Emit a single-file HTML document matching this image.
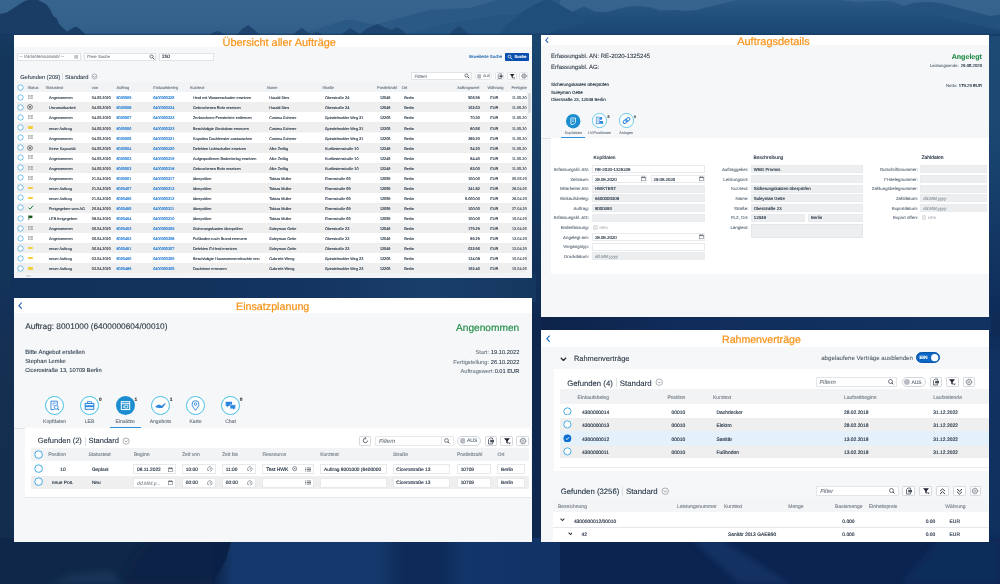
<!DOCTYPE html>
<html lang="de"><head><meta charset="utf-8"><title>Handwerkerportal</title>
<style>
html,body{margin:0;padding:0}
body{width:1000px;height:584px;overflow:hidden;position:relative;background:#113058;font-family:"Liberation Sans",sans-serif}
.a{position:absolute;box-sizing:border-box}
.t{position:absolute;white-space:nowrap;line-height:1;font-family:"Liberation Sans",sans-serif;text-rendering:geometricPrecision}
#ui{position:absolute;left:0;top:0;width:1000px;height:584px;filter:blur(.22px)}

</style></head><body>
<svg class="a" style="left:0;top:0" width="1000" height="584" viewBox="0 0 1000 584">
<defs>
<linearGradient id="gl" x1="0" x2="0" y1="0" y2="584" gradientUnits="userSpaceOnUse">
<stop offset="0" stop-color="#18406a"/><stop offset=".06" stop-color="#163a61"/><stop offset=".11" stop-color="#14365a"/><stop offset=".47" stop-color="#14355a"/><stop offset=".52" stop-color="#133058"/><stop offset=".60" stop-color="#142f51"/><stop offset=".92" stop-color="#132d4f"/><stop offset=".95" stop-color="#0f2849"/><stop offset="1" stop-color="#0f2747"/></linearGradient>
<linearGradient id="gr" x1="0" x2="0" y1="0" y2="584" gradientUnits="userSpaceOnUse">
<stop offset="0" stop-color="#1d4a76"/><stop offset=".2" stop-color="#1c4873"/><stop offset=".31" stop-color="#17406c"/><stop offset=".45" stop-color="#123360"/><stop offset=".56" stop-color="#0e2a55"/><stop offset=".62" stop-color="#113262"/><stop offset=".9" stop-color="#10305e"/><stop offset="1" stop-color="#0d2652"/></linearGradient>
<linearGradient id="gg" x1="0" x2="1" y1="0" y2="0"><stop offset="0" stop-color="#12315a"/><stop offset=".55" stop-color="#13345f"/><stop offset=".8" stop-color="#193f69"/><stop offset="1" stop-color="#14375f"/></linearGradient>
<linearGradient id="gb" x1="0" x2="1" y1="0" y2="0"><stop offset="0" stop-color="#0b2248"/><stop offset=".06" stop-color="#14386b"/><stop offset=".48" stop-color="#14386b"/><stop offset=".55" stop-color="#0e2a58"/><stop offset=".66" stop-color="#0e2a58"/><stop offset=".72" stop-color="#12356a"/><stop offset="1" stop-color="#113366"/></linearGradient>
<linearGradient id="gc" x1="0" x2="0" y1="30" y2="320" gradientUnits="userSpaceOnUse"><stop offset="0" stop-color="#1a4670"/><stop offset=".2" stop-color="#184169"/><stop offset=".5" stop-color="#143a64"/><stop offset="1" stop-color="#0f2a52"/></linearGradient>
<linearGradient id="gp" x1="0" x2="1" y1="0" y2="0"><stop offset="0" stop-color="#0d2349"/><stop offset=".3" stop-color="#102c5a"/><stop offset="1" stop-color="#123362"/></linearGradient>
<filter id="bl" x="-20%" y="-50%" width="140%" height="200%"><feGaussianBlur stdDeviation="3"/></filter>
</defs>
<rect x="0" y="0" width="545" height="584" fill="url(#gl)"/>
<rect x="536" y="0" width="464" height="584" fill="url(#gr)"/>
<rect x="530" y="30" width="13" height="290" fill="url(#gc)"/>
<rect x="530" y="318" width="13" height="266" fill="#0e2850"/>
<rect x="10" y="274" width="526" height="28" fill="url(#gg)"/>
<rect x="541" y="314" width="450" height="20" fill="url(#gp)"/>
<rect x="0" y="538" width="1000" height="46" fill="#0f2849"/>
<polygon points="120,584 135,555 150,538 232,538 226,560 212,584" fill="#0b2046" filter="url(#bl)"/>
<rect x="212" y="538" width="348" height="46" fill="url(#gb)"/>
<polygon points="212,584 226,560 232,538 212,538" fill="#0b2046"/>
<polygon points="50,584 70,574 110,570 125,584" fill="#1b3b5e" opacity=".6" filter="url(#bl)"/>
<rect x="560" y="538" width="440" height="46" fill="#0c2450"/>
<polygon points="690,538 720,538 790,584 740,584" fill="#123468" opacity=".8" filter="url(#bl)"/>
<polygon points="900,584 940,538 1000,538 1000,584" fill="#0f2d5c" opacity=".8" filter="url(#bl)"/>
</svg>
<svg class="a" style="left:0;top:0" width="1000" height="36" viewBox="0 0 1000 36">
<defs><linearGradient id="gs" x1="0" x2="0" y1="0" y2="1"><stop offset="0" stop-color="#36648e"/><stop offset=".6" stop-color="#34628c"/><stop offset="1" stop-color="#2f5d88"/></linearGradient>
<linearGradient id="gm" x1="0" x2="0" y1="0" y2="1"><stop offset="0" stop-color="#2a5985"/><stop offset=".55" stop-color="#1e4d79"/><stop offset="1" stop-color="#1a4772"/></linearGradient></defs>
<rect x="0" y="0" width="1000" height="36" fill="url(#gs)"/>
<polygon points="296,36 305,33 345,20 352,20 365,23 378,25 385,22 430,10 470,8 490,2 496,0 560,0 560,36" fill="#2b5985"/>
<polygon points="405,36 440,25 470,20 500,15 540,12 560,10 560,36" fill="#275582"/>
<polygon points="500,36 520,20 535,8 545,2 551,0 572,11.7 583.7,6.5 595.4,11.7 608,11.7 624,7.3 637,5.7 650,7.3 660,10.4 676,9.9 686,11 697,9.9 707,7.3 717.6,4.7 728,2 736,0 840.4,0 856,2 872.8,1.2 890.8,.7 904,6 913.6,2.9 928,1.9 942.4,3.6 964,9.6 990.4,16.3 1000,14.4 1000,36" fill="url(#gm)"/>
<polygon points="496,36 510,22 525,10 540,2 545,0 551,0 572,11.7 580,16 600,20 560,30 540,36" fill="#1f4e7a"/>
<polygon points="904,6 913.6,2.9 928,1.9 942.4,3.6 964,9.6 990.4,16.3 1000,14.4 1000,30 960,22 930,14 915,12" fill="#245280" opacity=".8"/>
<polygon points="0,14 7,12.6 14,7.7 18.2,4.9 23.8,1.4 28,0 38,0 46.2,4.2 50.4,9.8 53.2,16.1 56.7,18.2 58.8,23.8 63,28 67.2,31.5 71.4,28.7 75.6,26.6 78.4,28 82.6,31.5 85.4,34.3 87,36 0,36" fill="#1a3d66"/>
<polygon points="208,36 214,32 218,31 222,33 226,36" fill="#1e446e"/>
<polygon points="236,36 242,29 248,25 252,28 258,33 262,36" fill="#1e446e"/>
<polygon points="292,36 297,31 302,28 306,31 311,35 316,32 320,33 324,36" fill="#1e456f"/>
<polygon points="340,36 346,31 350,28 355,31 360,34 366,29 377.5,24 386,28 392,30 397,27 403,31 408,36" fill="#1e456f"/>
<polygon points="448,36 454,29 459.4,26 464,30 470,36" fill="#1e456f"/>
<rect x="0" y="33.5" width="1000" height="2.5" fill="#123660" opacity=".55"/>
</svg>
<div id="ui">
<div class="a" style="left:14px;top:35px;width:518px;height:243px;background:#f5f7f9;"></div>
<div class="a" style="left:14px;top:35px;width:518px;height:12px;background:#fff;"></div>
<div class="a" style="left:541px;top:35px;width:448px;height:282px;background:#f5f7f9;"></div>
<div class="a" style="left:541px;top:35px;width:448px;height:10px;background:#fff;"></div>
<div class="a" style="left:14px;top:298px;width:517.5px;height:244px;background:#f5f7f9;"></div>
<div class="a" style="left:14px;top:298px;width:517.5px;height:15px;background:#fff;"></div>
<div class="a" style="left:541px;top:330px;width:447.5px;height:212px;background:#f5f7f9;"></div>
<div class="a" style="left:541px;top:330px;width:447.5px;height:16.5px;background:#fff;"></div>
<div class="a" style="left:17.4px;top:53px;width:63.8px;height:8px;background:#fff;border:.6px solid #e1e4e7;"></div>
<svg class="a" style="left:73.75px;top:55.12px" width="4.5" height="3.75" viewBox="0 0 6 5"><g stroke="#666e77" stroke-width=".8"><line x1="0" y1="1" x2="1" y2="1"/><line x1="1.8" y1="1" x2="6" y2="1"/><line x1="0" y1="2.5" x2="1" y2="2.5"/><line x1="1.8" y1="2.5" x2="6" y2="2.5"/><line x1="0" y1="4" x2="1" y2="4"/><line x1="1.8" y1="4" x2="6" y2="4"/></g></svg>
<div class="a" style="left:84px;top:53px;width:71.7px;height:8px;background:#fff;border:.6px solid #e1e4e7;"></div>
<svg class="a" style="left:149px;top:54px" width="6" height="6" viewBox="0 0 6 6"><circle cx="2.5" cy="2.5" r="1.6" fill="none" stroke="#445" stroke-width=".7"/><line x1="3.7" y1="3.7" x2="5.4" y2="5.4" stroke="#445" stroke-width=".9"/></svg>
<div class="a" style="left:158.8px;top:53px;width:55.4px;height:8px;background:#fff;border:.6px solid #e1e4e7;"></div>
<div class="a" style="left:505px;top:53px;width:24.1px;height:8px;background:#0a4fae;border-radius:0.8px;"></div>
<svg class="a" style="left:507.4px;top:54.2px" width="6" height="6" viewBox="0 0 6 6"><circle cx="2.5" cy="2.5" r="1.4" fill="none" stroke="#fff" stroke-width=".7"/><line x1="3.7" y1="3.7" x2="5.4" y2="5.4" stroke="#fff" stroke-width=".9"/></svg>
<div class="a" style="left:62.3px;top:73.2px;width:0.5px;height:6.6px;background:#dfe2e5;"></div>
<svg class="a" style="left:90.5px;top:72.8px" width="7" height="7" viewBox="0 0 7 7"><circle cx="3.5" cy="3.5" r="2.5" fill="none" stroke="#7a828b" stroke-width=".6"/><polyline points="2.1,3.0 3.5,4.4 4.9,3.0" fill="none" stroke="#7a828b" stroke-width=".7"/></svg>
<div class="a" style="left:411.2px;top:72.2px;width:60.8px;height:8px;background:#fff;border:.6px solid #e1e4e7;border-radius:0.8px;"></div>
<svg class="a" style="left:463.5px;top:73.4px" width="6" height="6" viewBox="0 0 6 6"><circle cx="2.5" cy="2.5" r="1.6" fill="none" stroke="#445" stroke-width=".7"/><line x1="3.7" y1="3.7" x2="5.4" y2="5.4" stroke="#445" stroke-width=".9"/></svg>
<div class="a" style="left:475px;top:72.3px;width:17.4px;height:7.8px;background:#fff;border:.6px solid #e2e5e8;border-radius:3.9px;"></div>
<svg class="a" style="left:476.72px;top:73.87px" width="4.66" height="4.66" viewBox="0 0 4.66 4.66"><circle cx="2.327999999999999" cy="2.327999999999999" r="2.027999999999999" fill="#b9bec4" stroke="#9aa0a8" stroke-width=".4"/></svg>
<div class="a" style="left:495.2px;top:72.3px;width:9.3px;height:7.8px;background:#fff;border:.6px solid #e2e5e8;border-radius:1.2px;"></div>
<svg class="a" style="left:496.6px;top:73px" width="6.4" height="6.4" viewBox="0 0 8 8"><path d="M1.5 2.5 L1.5 7 L5.5 7 L5.5 5.6 M1.5 2.5 L3 1 L5.5 1 L5.5 2.4" fill="none" stroke="#4a525b" stroke-width=".8"/><rect x="3.2" y="2.8" width="3.8" height="2.6" fill="#4a525b"/></svg>
<div class="a" style="left:507px;top:72.3px;width:9.5px;height:7.8px;background:#fff;border:.6px solid #e2e5e8;border-radius:1.2px;"></div>
<svg class="a" style="left:508.6px;top:73px" width="6.4" height="6.4" viewBox="0 0 8 8"><polygon points="1,1.3 7,1.3 4.7,4 4.7,6.8 3.3,6 3.3,4" fill="#223"/><path d="M5.6 5.4 L7.2 7 M7.2 5.4 L5.6 7" stroke="#223" stroke-width=".7"/></svg>
<div class="a" style="left:519px;top:72.3px;width:9.3px;height:7.8px;background:#fff;border:.6px solid #e2e5e8;border-radius:1.2px;"></div>
<svg class="a" style="left:519.7px;top:72.2px" width="8" height="8" viewBox="0 0 8 8"><circle cx="4" cy="4" r="1.9" fill="none" stroke="#7b838c" stroke-width=".8"/><circle cx="4" cy="4" r="0.722" fill="none" stroke="#7b838c" stroke-width=".6"/><circle cx="4" cy="4" r="2.4" fill="none" stroke="#7b838c" stroke-width=".9" stroke-dasharray="1 1.1"/></svg>
<div class="a" style="left:17.4px;top:82px;width:509px;height:10.8px;background:#f2f3f4;"></div>
<div class="a" style="left:17.4px;top:92.5px;width:509px;height:0.5px;background:#dfe2e5;"></div>
<svg class="a" style="left:16.7px;top:83.8px" width="7" height="7" viewBox="0 0 7 7"><circle cx="3.5" cy="3.5" r="2.7" fill="#fff" stroke="#3fa8e3" stroke-width="0.72"/></svg>
<div class="a" style="left:17.4px;top:92.27px;width:509px;height:10.06px;background:#fff;"></div>
<svg class="a" style="left:16.7px;top:93.8px" width="7" height="7" viewBox="0 0 7 7"><circle cx="3.5" cy="3.5" r="2.7" fill="#fff" stroke="#3fa8e3" stroke-width="0.72"/></svg>
<svg class="a" style="left:27.6px;top:95.1px" width="5.4" height="4.4" viewBox="0 0 5.4 4.4"><g fill="none" stroke="#8b8f94" stroke-width=".45"><rect x=".4" y=".4" width="1.7" height="3.4"/><rect x="3.2" y=".4" width="1.7" height="3.4"/></g><rect x=".9" y="1.2" width=".7" height=".5" fill="#777"/><rect x="3.7" y="1.2" width=".7" height=".5" fill="#777"/></svg>
<div class="a" style="left:17.4px;top:102.33px;width:509px;height:10.06px;background:#efefef;"></div>
<svg class="a" style="left:16.7px;top:103.86px" width="7" height="7" viewBox="0 0 7 7"><circle cx="3.5" cy="3.5" r="2.7" fill="#fff" stroke="#3fa8e3" stroke-width="0.72"/></svg>
<svg class="a" style="left:27.2px;top:104.36px" width="6" height="6" viewBox="0 0 6 6"><circle cx="3" cy="3" r="2.4" fill="none" stroke="#333" stroke-width=".6"/><path d="M2 2 L4 4 M4 2 L2 4" stroke="#333" stroke-width=".6"/></svg>
<div class="a" style="left:17.4px;top:112.39px;width:509px;height:10.06px;background:#fff;"></div>
<svg class="a" style="left:16.7px;top:113.92px" width="7" height="7" viewBox="0 0 7 7"><circle cx="3.5" cy="3.5" r="2.7" fill="#fff" stroke="#3fa8e3" stroke-width="0.72"/></svg>
<svg class="a" style="left:27.6px;top:115.22px" width="5.4" height="4.4" viewBox="0 0 5.4 4.4"><g fill="none" stroke="#8b8f94" stroke-width=".45"><rect x=".4" y=".4" width="1.7" height="3.4"/><rect x="3.2" y=".4" width="1.7" height="3.4"/></g><rect x=".9" y="1.2" width=".7" height=".5" fill="#777"/><rect x="3.7" y="1.2" width=".7" height=".5" fill="#777"/></svg>
<div class="a" style="left:17.4px;top:122.45px;width:509px;height:10.06px;background:#efefef;"></div>
<svg class="a" style="left:16.7px;top:123.98px" width="7" height="7" viewBox="0 0 7 7"><circle cx="3.5" cy="3.5" r="2.7" fill="#fff" stroke="#3fa8e3" stroke-width="0.72"/></svg>
<div class="a" style="left:27.6px;top:126.28px;width:5.4px;height:2.4px;background:#f2cf3a;border-radius:0.8px;"></div>
<div class="a" style="left:17.4px;top:132.51px;width:509px;height:10.06px;background:#fff;"></div>
<svg class="a" style="left:16.7px;top:134.04px" width="7" height="7" viewBox="0 0 7 7"><circle cx="3.5" cy="3.5" r="2.7" fill="#fff" stroke="#3fa8e3" stroke-width="0.72"/></svg>
<svg class="a" style="left:27.6px;top:135.34px" width="5.4" height="4.4" viewBox="0 0 5.4 4.4"><g fill="none" stroke="#8b8f94" stroke-width=".45"><rect x=".4" y=".4" width="1.7" height="3.4"/><rect x="3.2" y=".4" width="1.7" height="3.4"/></g><rect x=".9" y="1.2" width=".7" height=".5" fill="#777"/><rect x="3.7" y="1.2" width=".7" height=".5" fill="#777"/></svg>
<div class="a" style="left:17.4px;top:142.57px;width:509px;height:10.06px;background:#efefef;"></div>
<svg class="a" style="left:16.7px;top:144.1px" width="7" height="7" viewBox="0 0 7 7"><circle cx="3.5" cy="3.5" r="2.7" fill="#fff" stroke="#3fa8e3" stroke-width="0.72"/></svg>
<svg class="a" style="left:27.2px;top:144.6px" width="6" height="6" viewBox="0 0 6 6"><circle cx="3" cy="3" r="2.4" fill="none" stroke="#333" stroke-width=".6"/><path d="M2 2 L4 4 M4 2 L2 4" stroke="#333" stroke-width=".6"/></svg>
<div class="a" style="left:17.4px;top:152.63px;width:509px;height:10.06px;background:#fff;"></div>
<svg class="a" style="left:16.7px;top:154.16px" width="7" height="7" viewBox="0 0 7 7"><circle cx="3.5" cy="3.5" r="2.7" fill="#fff" stroke="#3fa8e3" stroke-width="0.72"/></svg>
<svg class="a" style="left:27.6px;top:155.46px" width="5.4" height="4.4" viewBox="0 0 5.4 4.4"><g fill="none" stroke="#8b8f94" stroke-width=".45"><rect x=".4" y=".4" width="1.7" height="3.4"/><rect x="3.2" y=".4" width="1.7" height="3.4"/></g><rect x=".9" y="1.2" width=".7" height=".5" fill="#777"/><rect x="3.7" y="1.2" width=".7" height=".5" fill="#777"/></svg>
<div class="a" style="left:17.4px;top:162.69px;width:509px;height:10.06px;background:#efefef;"></div>
<svg class="a" style="left:16.7px;top:164.22px" width="7" height="7" viewBox="0 0 7 7"><circle cx="3.5" cy="3.5" r="2.7" fill="#fff" stroke="#3fa8e3" stroke-width="0.72"/></svg>
<svg class="a" style="left:27.6px;top:165.52px" width="5.4" height="4.4" viewBox="0 0 5.4 4.4"><g fill="none" stroke="#8b8f94" stroke-width=".45"><rect x=".4" y=".4" width="1.7" height="3.4"/><rect x="3.2" y=".4" width="1.7" height="3.4"/></g><rect x=".9" y="1.2" width=".7" height=".5" fill="#777"/><rect x="3.7" y="1.2" width=".7" height=".5" fill="#777"/></svg>
<div class="a" style="left:17.4px;top:172.75px;width:509px;height:10.06px;background:#fff;"></div>
<svg class="a" style="left:16.7px;top:174.28px" width="7" height="7" viewBox="0 0 7 7"><circle cx="3.5" cy="3.5" r="2.7" fill="#fff" stroke="#3fa8e3" stroke-width="0.72"/></svg>
<svg class="a" style="left:27.6px;top:175.58px" width="5.4" height="4.4" viewBox="0 0 5.4 4.4"><g fill="none" stroke="#8b8f94" stroke-width=".45"><rect x=".4" y=".4" width="1.7" height="3.4"/><rect x="3.2" y=".4" width="1.7" height="3.4"/></g><rect x=".9" y="1.2" width=".7" height=".5" fill="#777"/><rect x="3.7" y="1.2" width=".7" height=".5" fill="#777"/></svg>
<div class="a" style="left:17.4px;top:182.81px;width:509px;height:10.06px;background:#efefef;"></div>
<svg class="a" style="left:16.7px;top:184.34px" width="7" height="7" viewBox="0 0 7 7"><circle cx="3.5" cy="3.5" r="2.7" fill="#fff" stroke="#3fa8e3" stroke-width="0.72"/></svg>
<div class="a" style="left:27.6px;top:186.64px;width:5.4px;height:2.4px;background:#f2cf3a;border-radius:0.8px;"></div>
<div class="a" style="left:17.4px;top:192.87px;width:509px;height:10.06px;background:#fff;"></div>
<svg class="a" style="left:16.7px;top:194.4px" width="7" height="7" viewBox="0 0 7 7"><circle cx="3.5" cy="3.5" r="2.7" fill="#fff" stroke="#3fa8e3" stroke-width="0.72"/></svg>
<div class="a" style="left:27.6px;top:196.7px;width:5.4px;height:2.4px;background:#f2cf3a;border-radius:0.8px;"></div>
<div class="a" style="left:17.4px;top:202.93px;width:509px;height:10.06px;background:#efefef;"></div>
<svg class="a" style="left:16.7px;top:204.46px" width="7" height="7" viewBox="0 0 7 7"><circle cx="3.5" cy="3.5" r="2.7" fill="#fff" stroke="#3fa8e3" stroke-width="0.72"/></svg>
<svg class="a" style="left:27.6px;top:205.46px" width="6" height="5" viewBox="0 0 6 5"><polyline points=".6,2.8 2.1,4.2 5,.7" fill="none" stroke="#1a7a2e" stroke-width="1"/></svg>
<div class="a" style="left:17.4px;top:212.99px;width:509px;height:10.06px;background:#fff;"></div>
<svg class="a" style="left:16.7px;top:214.52px" width="7" height="7" viewBox="0 0 7 7"><circle cx="3.5" cy="3.5" r="2.7" fill="#fff" stroke="#3fa8e3" stroke-width="0.72"/></svg>
<svg class="a" style="left:27.8px;top:215.42px" width="5" height="5.4" viewBox="0 0 5 5.4"><path d="M.8 .4 L.8 5.2" stroke="#16581f" stroke-width=".7"/><path d="M.8 .6 L4.4 .6 L4.4 3.1 L.8 3.1 Z" fill="#16581f"/></svg>
<div class="a" style="left:17.4px;top:223.05px;width:509px;height:10.06px;background:#efefef;"></div>
<svg class="a" style="left:16.7px;top:224.58px" width="7" height="7" viewBox="0 0 7 7"><circle cx="3.5" cy="3.5" r="2.7" fill="#fff" stroke="#3fa8e3" stroke-width="0.72"/></svg>
<svg class="a" style="left:27.6px;top:225.88px" width="5.4" height="4.4" viewBox="0 0 5.4 4.4"><g fill="none" stroke="#8b8f94" stroke-width=".45"><rect x=".4" y=".4" width="1.7" height="3.4"/><rect x="3.2" y=".4" width="1.7" height="3.4"/></g><rect x=".9" y="1.2" width=".7" height=".5" fill="#777"/><rect x="3.7" y="1.2" width=".7" height=".5" fill="#777"/></svg>
<div class="a" style="left:17.4px;top:233.11px;width:509px;height:10.06px;background:#fff;"></div>
<svg class="a" style="left:16.7px;top:234.64px" width="7" height="7" viewBox="0 0 7 7"><circle cx="3.5" cy="3.5" r="2.7" fill="#fff" stroke="#3fa8e3" stroke-width="0.72"/></svg>
<svg class="a" style="left:27.6px;top:235.94px" width="5.4" height="4.4" viewBox="0 0 5.4 4.4"><g fill="none" stroke="#8b8f94" stroke-width=".45"><rect x=".4" y=".4" width="1.7" height="3.4"/><rect x="3.2" y=".4" width="1.7" height="3.4"/></g><rect x=".9" y="1.2" width=".7" height=".5" fill="#777"/><rect x="3.7" y="1.2" width=".7" height=".5" fill="#777"/></svg>
<div class="a" style="left:17.4px;top:243.17px;width:509px;height:10.06px;background:#efefef;"></div>
<svg class="a" style="left:16.7px;top:244.7px" width="7" height="7" viewBox="0 0 7 7"><circle cx="3.5" cy="3.5" r="2.7" fill="#fff" stroke="#3fa8e3" stroke-width="0.72"/></svg>
<div class="a" style="left:27.6px;top:247px;width:5.4px;height:2.4px;background:#f2cf3a;border-radius:0.8px;"></div>
<div class="a" style="left:17.4px;top:253.23px;width:509px;height:10.06px;background:#fff;"></div>
<svg class="a" style="left:16.7px;top:254.76px" width="7" height="7" viewBox="0 0 7 7"><circle cx="3.5" cy="3.5" r="2.7" fill="#fff" stroke="#3fa8e3" stroke-width="0.72"/></svg>
<div class="a" style="left:27.6px;top:257.06px;width:5.4px;height:2.4px;background:#f2cf3a;border-radius:0.8px;"></div>
<div class="a" style="left:17.4px;top:263.29px;width:509px;height:10.06px;background:#efefef;"></div>
<svg class="a" style="left:16.7px;top:264.82px" width="7" height="7" viewBox="0 0 7 7"><circle cx="3.5" cy="3.5" r="2.7" fill="#fff" stroke="#3fa8e3" stroke-width="0.72"/></svg>
<div class="a" style="left:27.6px;top:267.12px;width:5.4px;height:2.4px;background:#f2cf3a;border-radius:0.8px;"></div>
<div class="a" style="left:526.4px;top:82px;width:5.6px;height:191.4px;background:#f4f5f6;"></div>
<div class="a" style="left:527.6px;top:93px;width:3.2px;height:20px;background:#d9dcdf;border-radius:1.2px;"></div>
<div class="a" style="left:14px;top:273.4px;width:518px;height:4.6px;background:#f3f4f5;"></div>
<div class="a" style="left:25.6px;top:274.6px;width:5.6px;height:2px;background:#d6d9dc;border-radius:1px;"></div>
<svg class="a" style="left:545.4px;top:37px" width="4" height="6.4" viewBox="0 0 4 6.4"><polyline points="3.2,.5 .8,3.2 3.2,5.9" fill="none" stroke="#2b64b8" stroke-width="1.05"/></svg>
<svg class="a" style="left:565.1px;top:112.6px" width="16.4" height="16.4" viewBox="0 0 16.4 16.4"><circle cx="8.2" cy="8.2" r="7.2" fill="#1b8dd0"/></svg>
<svg class="a" style="left:566.1px;top:113.6px" width="14.4" height="14.4" viewBox="-7.2 -7.2 14.4 14.4"><g transform="scale(0.96)"><path d="M-2.4 -3.3 H2.4 V1.2 L.6 3.3 H-2.4 Z" fill="none" stroke="#fff" stroke-width=".8"/><path d="M-1.1 -1.3 H1.2 M-1.1 .3 H.6" stroke="#fff" stroke-width=".7"/></g></svg>
<svg class="a" style="left:591.2px;top:112.3px" width="17" height="17" viewBox="0 0 17 17"><circle cx="8.5" cy="8.5" r="7.10625" fill="#fff" stroke="#45bfe6" stroke-width="0.7875"/></svg>
<svg class="a" style="left:592.2px;top:113.3px" width="15" height="15" viewBox="-7.5 -7.5 15.0 15.0"><g transform="scale(1)"><rect x="-3.3" y="-3.4" width="3" height="6.6" fill="none" stroke="#2e86de" stroke-width=".7"/><rect x=".4" y="-3.4" width="2.2" height="2.6" fill="#2e86de"/><path d="M.2 .6 H3.3 L4 3.2 H-.2 Z" fill="#2e86de"/><path d="M-2.5 -1.8 H-1.1 M-2.5 -.4 H-1.1 M-2.5 1 H-1.1" stroke="#2e86de" stroke-width=".5"/></g></svg>
<svg class="a" style="left:617.7px;top:112.3px" width="17" height="17" viewBox="0 0 17 17"><circle cx="8.5" cy="8.5" r="7.10625" fill="#fff" stroke="#45bfe6" stroke-width="0.7875"/></svg>
<svg class="a" style="left:618.7px;top:113.3px" width="15" height="15" viewBox="-7.5 -7.5 15.0 15.0"><g transform="scale(1)"><g transform="rotate(-38)"><rect x="-3.9" y="-1.5" width="4.6" height="3" rx="1.5" fill="none" stroke="#2e86de" stroke-width="1"/><rect x="-.7" y="-1.5" width="4.6" height="3" rx="1.5" fill="none" stroke="#2e86de" stroke-width="1"/></g></g></svg>
<div class="a" style="left:541px;top:137.6px;width:448px;height:0.6px;background:#dfe2e6;"></div>
<div class="a" style="left:561.2px;top:136.9px;width:23.8px;height:1.1px;background:#2a8fdc;"></div>
<div class="a" style="left:550.5px;top:138.2px;width:438.5px;height:136px;background:#fff;"></div>
<div class="a" style="left:591.9px;top:165.25px;width:113.4px;height:8.1px;background:#fff;border:.5px solid #e8eaed;"></div>
<div class="a" style="left:591.9px;top:174.93px;width:55.4px;height:8.1px;background:#fff;border:.5px solid #e8eaed;"></div>
<svg class="a" style="left:640.8px;top:176.38px" width="5" height="5.2" viewBox="0 0 5 5.2"><rect x=".5" y="1" width="4" height="3.8" fill="none" stroke="#6d757e" stroke-width=".55"/><rect x=".5" y="1" width="4" height="1.1" fill="#6d757e"/><path d="M1.5 .2 V1.2 M3.5 .2 V1.2" stroke="#6d757e" stroke-width=".5"/></svg>
<div class="a" style="left:650.5px;top:174.93px;width:54.8px;height:8.1px;background:#fff;border:.5px solid #e8eaed;"></div>
<svg class="a" style="left:698.8px;top:176.38px" width="5" height="5.2" viewBox="0 0 5 5.2"><rect x=".5" y="1" width="4" height="3.8" fill="none" stroke="#6d757e" stroke-width=".55"/><rect x=".5" y="1" width="4" height="1.1" fill="#6d757e"/><path d="M1.5 .2 V1.2 M3.5 .2 V1.2" stroke="#6d757e" stroke-width=".5"/></svg>
<div class="a" style="left:591.9px;top:184.61px;width:113.4px;height:8.1px;background:#eceeef;border:.5px solid #e9ebec;"></div>
<div class="a" style="left:591.9px;top:194.29px;width:113.4px;height:8.1px;background:#eceeef;border:.5px solid #e9ebec;"></div>
<div class="a" style="left:591.9px;top:203.97px;width:113.4px;height:8.1px;background:#eceeef;border:.5px solid #e9ebec;"></div>
<div class="a" style="left:591.9px;top:213.65px;width:113.4px;height:8.1px;background:#eceeef;border:.5px solid #e9ebec;"></div>
<div class="a" style="left:593px;top:225.08px;width:4.6px;height:4.6px;background:#e6e8ea;border:.4px solid #d9dcdf;border-radius:1.2px;"></div>
<div class="a" style="left:591.9px;top:233.01px;width:113.4px;height:8.1px;background:#fff;border:.5px solid #e8eaed;"></div>
<svg class="a" style="left:698.8px;top:234.46px" width="5" height="5.2" viewBox="0 0 5 5.2"><rect x=".5" y="1" width="4" height="3.8" fill="none" stroke="#6d757e" stroke-width=".55"/><rect x=".5" y="1" width="4" height="1.1" fill="#6d757e"/><path d="M1.5 .2 V1.2 M3.5 .2 V1.2" stroke="#6d757e" stroke-width=".5"/></svg>
<div class="a" style="left:591.9px;top:242.69px;width:113.4px;height:8.1px;background:#fff;border:.5px solid #e8eaed;"></div>
<div class="a" style="left:591.9px;top:252.37px;width:113.4px;height:8.1px;background:#eceeef;border:.5px solid #e9ebec;"></div>
<div class="a" style="left:750.8px;top:165.25px;width:111.9px;height:8.1px;background:#eceeef;border:.5px solid #e9ebec;"></div>
<div class="a" style="left:750.8px;top:174.93px;width:111.9px;height:8.1px;background:#eceeef;border:.5px solid #e9ebec;"></div>
<div class="a" style="left:750.8px;top:184.61px;width:111.9px;height:8.1px;background:#eceeef;border:.5px solid #e9ebec;"></div>
<div class="a" style="left:750.8px;top:194.29px;width:111.9px;height:8.1px;background:#eceeef;border:.5px solid #e9ebec;"></div>
<div class="a" style="left:750.8px;top:203.97px;width:111.9px;height:8.1px;background:#eceeef;border:.5px solid #e9ebec;"></div>
<div class="a" style="left:750.8px;top:213.65px;width:54.4px;height:8.1px;background:#eceeef;border:.5px solid #e9ebec;"></div>
<div class="a" style="left:808px;top:213.65px;width:54.7px;height:8.1px;background:#eceeef;border:.5px solid #e9ebec;"></div>
<div class="a" style="left:750.8px;top:223.6px;width:111.9px;height:14.6px;background:#eceeef;border:.5px solid #e4e6e8;"></div>
<div class="a" style="left:920.3px;top:165.25px;width:66.7px;height:8.1px;background:#eceeef;border:.5px solid #e9ebec;"></div>
<div class="a" style="left:920.3px;top:174.93px;width:66.7px;height:8.1px;background:#eceeef;border:.5px solid #e9ebec;"></div>
<div class="a" style="left:920.3px;top:184.61px;width:66.7px;height:8.1px;background:#eceeef;border:.5px solid #e9ebec;"></div>
<div class="a" style="left:920.3px;top:194.29px;width:66.7px;height:8.1px;background:#eceeef;border:.5px solid #e9ebec;"></div>
<div class="a" style="left:920.3px;top:203.97px;width:66.7px;height:8.1px;background:#eceeef;border:.5px solid #e9ebec;"></div>
<div class="a" style="left:921.5px;top:215.4px;width:4.6px;height:4.6px;background:#e6e8ea;border:.4px solid #d9dcdf;border-radius:1.2px;"></div>
<svg class="a" style="left:17.7px;top:302.32px" width="4.6" height="7.36" viewBox="0 0 4 6.4"><polyline points="3.2,.5 .8,3.2 3.2,5.9" fill="none" stroke="#2b64b8" stroke-width="1.05"/></svg>
<svg class="a" style="left:44.1px;top:394.6px" width="21" height="21" viewBox="0 0 21 21"><circle cx="10.5" cy="10.5" r="9.00125" fill="#fff" stroke="#45bfe6" stroke-width="0.9974999999999999"/></svg>
<svg class="a" style="left:45.1px;top:395.6px" width="19" height="19" viewBox="-9.5 -9.5 19.0 19.0"><g transform="scale(1.27)"><path d="M-2.8 -3.4 H2.2 V-.4 M-2.8 -3.4 V3.2 H-.2" fill="none" stroke="#2e86de" stroke-width=".75"/><path d="M-1.6 -1.8 H1 M-1.6 -.4 H-.2" stroke="#2e86de" stroke-width=".6"/><circle cx="1.3" cy="1.4" r="1.5" fill="none" stroke="#2e86de" stroke-width=".7"/><path d="M2.4 2.5 L3.6 3.7" stroke="#2e86de" stroke-width=".8"/></g></svg>
<svg class="a" style="left:79.1px;top:394.6px" width="21" height="21" viewBox="0 0 21 21"><circle cx="10.5" cy="10.5" r="9.00125" fill="#fff" stroke="#45bfe6" stroke-width="0.9974999999999999"/></svg>
<svg class="a" style="left:80.1px;top:395.6px" width="19" height="19" viewBox="-9.5 -9.5 19.0 19.0"><g transform="scale(1.27)"><rect x="-3.4" y="-1.6" width="6.8" height="4.6" fill="none" stroke="#2e86de" stroke-width=".8"/><rect x="-3.4" y="-.2" width="6.8" height="1.5" fill="#2e86de"/><path d="M-1.6 -1.6 V-3 H1.6 V-1.6" fill="none" stroke="#2e86de" stroke-width=".7"/></g></svg>
<svg class="a" style="left:114.7px;top:394.6px" width="21" height="21" viewBox="0 0 21 21"><circle cx="10.5" cy="10.5" r="9.5" fill="#1b8dd0"/></svg>
<svg class="a" style="left:115.7px;top:395.6px" width="19" height="19" viewBox="-9.5 -9.5 19.0 19.0"><g transform="scale(1.27)"><rect x="-3.3" y="-3" width="6.6" height="6.2" fill="none" stroke="#fff" stroke-width=".8"/><path d="M-3.3 -1.4 H3.3" stroke="#fff" stroke-width=".8"/><path d="M-.6 -.2 H1.8 V2 H-.6 Z" fill="none" stroke="#fff" stroke-width=".6"/><path d="M-1.6 .2 V1.8" stroke="#fff" stroke-width=".6"/></g></svg>
<svg class="a" style="left:150px;top:394.6px" width="21" height="21" viewBox="0 0 21 21"><circle cx="10.5" cy="10.5" r="9.00125" fill="#fff" stroke="#45bfe6" stroke-width="0.9974999999999999"/></svg>
<svg class="a" style="left:151px;top:395.6px" width="19" height="19" viewBox="-9.5 -9.5 19.0 19.0"><g transform="scale(1.27)"><path d="M-3.8 .4 L-1.2 -.8 L1 .2 L3.6 -2 L4 -1.2 L1.4 2 L-1.4 2 L-3.8 1.4 Z" fill="#2e86de"/></g></svg>
<svg class="a" style="left:185px;top:394.6px" width="21" height="21" viewBox="0 0 21 21"><circle cx="10.5" cy="10.5" r="9.00125" fill="#fff" stroke="#45bfe6" stroke-width="0.9974999999999999"/></svg>
<svg class="a" style="left:186px;top:395.6px" width="19" height="19" viewBox="-9.5 -9.5 19.0 19.0"><g transform="scale(1.27)"><path d="M0 3.8 C-1.4 1.8 -2.7 .6 -2.7 -1.1 A2.7 2.7 0 0 1 2.7 -1.1 C2.7 .6 1.4 1.8 0 3.8 Z" fill="none" stroke="#2e86de" stroke-width=".75"/><circle cx="0" cy="-1.1" r="1" fill="none" stroke="#2e86de" stroke-width=".7"/></g></svg>
<svg class="a" style="left:220px;top:394.6px" width="21" height="21" viewBox="0 0 21 21"><circle cx="10.5" cy="10.5" r="9.00125" fill="#fff" stroke="#45bfe6" stroke-width="0.9974999999999999"/></svg>
<svg class="a" style="left:221px;top:395.6px" width="19" height="19" viewBox="-9.5 -9.5 19.0 19.0"><g transform="scale(1.27)"><path d="M-3.8 -3 H1.2 V.4 H-1.6 L-2.8 1.6 V.4 H-3.8 Z" fill="#2e86de"/><path d="M-.4 -.6 H4 V2.6 H3 V3.8 L1.8 2.6 H-.4 Z" fill="#2e86de" stroke="#fff" stroke-width=".4"/></g></svg>
<div class="a" style="left:14px;top:427.6px;width:517.5px;height:0.6px;background:#dfe2e6;"></div>
<div class="a" style="left:109.8px;top:426.9px;width:31.1px;height:1.2px;background:#2a8fdc;"></div>
<div class="a" style="left:24.6px;top:428.2px;width:506.9px;height:68.8px;background:#fff;"></div>
<div class="a" style="left:24.6px;top:496.6px;width:506.9px;height:0.6px;background:#e6e8eb;"></div>
<div class="a" style="left:84.8px;top:436.6px;width:0.6px;height:9px;background:#dde0e4;"></div>
<svg class="a" style="left:122.2px;top:436.5px" width="8.2" height="8.2" viewBox="0 0 8.2 8.2"><circle cx="4.1" cy="4.1" r="3.1" fill="none" stroke="#7a828b" stroke-width=".6"/><polyline points="2.7,3.6 4.1,5.0 5.5,3.6" fill="none" stroke="#7a828b" stroke-width=".7"/></svg>
<div class="a" style="left:358.6px;top:435.8px;width:12.9px;height:10px;background:#fff;border:.6px solid #d6d9dd;border-radius:1.2px;"></div>
<svg class="a" style="left:361.6px;top:437.4px" width="7" height="7" viewBox="0 0 7 7"><path d="M5.6 3.6 A2.2 2.2 0 1 1 3.5 1.3" fill="none" stroke="#334" stroke-width=".7"/><path d="M2.8 .2 L4.2 1.3 L2.8 2.4" fill="none" stroke="#334" stroke-width=".6"/></svg>
<div class="a" style="left:374.8px;top:435.8px;width:79px;height:10px;background:#fff;border:.6px solid #e7e9ec;border-radius:0.8px;"></div>
<div class="a" style="left:440.6px;top:436.4px;width:0.5px;height:8.8px;background:#e2e5e8;"></div>
<svg class="a" style="left:444px;top:438px" width="6" height="6" viewBox="0 0 6 6"><circle cx="2.5" cy="2.5" r="1.9" fill="none" stroke="#445" stroke-width=".7"/><line x1="3.7" y1="3.7" x2="5.4" y2="5.4" stroke="#445" stroke-width=".9"/></svg>
<div class="a" style="left:457.4px;top:435.9px;width:23.8px;height:9.8px;background:#fff;border:.6px solid #d2d6da;border-radius:4.9px;"></div>
<svg class="a" style="left:459.56px;top:437.95px" width="5.7" height="5.7" viewBox="0 0 5.7 5.7"><circle cx="2.848000000000003" cy="2.848000000000003" r="2.548000000000003" fill="#b9bec4" stroke="#9aa0a8" stroke-width=".4"/></svg>
<div class="a" style="left:484.6px;top:435.8px;width:12.9px;height:10px;background:#fff;border:.6px solid #d6d9dd;border-radius:1.2px;"></div>
<svg class="a" style="left:487px;top:436.8px" width="8" height="8" viewBox="0 0 8 8"><path d="M1.5 2.5 L1.5 7 L5.5 7 L5.5 5.6 M1.5 2.5 L3 1 L5.5 1 L5.5 2.4" fill="none" stroke="#4a525b" stroke-width=".8"/><rect x="3.2" y="2.8" width="3.8" height="2.6" fill="#4a525b"/></svg>
<div class="a" style="left:500.3px;top:435.8px;width:13.1px;height:10px;background:#fff;border:.6px solid #d6d9dd;border-radius:1.2px;"></div>
<svg class="a" style="left:502.9px;top:436.8px" width="8" height="8" viewBox="0 0 8 8"><polygon points="1,1.3 7,1.3 4.7,4 4.7,6.8 3.3,6 3.3,4" fill="#223"/><path d="M5.6 5.4 L7.2 7 M7.2 5.4 L5.6 7" stroke="#223" stroke-width=".7"/></svg>
<div class="a" style="left:516.2px;top:435.8px;width:12.6px;height:10px;background:#fff;border:.6px solid #d6d9dd;border-radius:1.2px;"></div>
<svg class="a" style="left:518.5px;top:436.8px" width="8" height="8" viewBox="0 0 8 8"><circle cx="4" cy="4" r="2.5" fill="none" stroke="#7b838c" stroke-width=".8"/><circle cx="4" cy="4" r="0.95" fill="none" stroke="#7b838c" stroke-width=".6"/><circle cx="4" cy="4" r="3.0" fill="none" stroke="#7b838c" stroke-width=".9" stroke-dasharray="1 1.1"/></svg>
<div class="a" style="left:31px;top:447.8px;width:497.8px;height:13.4px;background:#f2f3f4;"></div>
<svg class="a" style="left:33.8px;top:449.6px" width="9.2" height="9.2" viewBox="0 0 9.2 9.2"><circle cx="4.6" cy="4.6" r="3.8" fill="#fff" stroke="#3fa8e3" stroke-width="0.9839999999999999"/></svg>
<div class="a" style="left:31px;top:462.4px;width:497.8px;height:13.4px;background:#fff;"></div>
<svg class="a" style="left:33.8px;top:463.6px" width="9.2" height="9.2" viewBox="0 0 9.2 9.2"><circle cx="4.6" cy="4.6" r="3.8" fill="#fff" stroke="#3fa8e3" stroke-width="0.9839999999999999"/></svg>
<div class="a" style="left:133.3px;top:464.1px;width:42.6px;height:10px;background:#fff;border:.6px solid #e7e9ec;border-radius:0.6px;"></div>
<svg class="a" style="left:167.8px;top:466.5px" width="5" height="5.2" viewBox="0 0 5 5.2"><rect x=".5" y="1" width="4" height="3.8" fill="none" stroke="#6d757e" stroke-width=".55"/><rect x=".5" y="1" width="4" height="1.1" fill="#6d757e"/><path d="M1.5 .2 V1.2 M3.5 .2 V1.2" stroke="#6d757e" stroke-width=".5"/></svg>
<div class="a" style="left:182px;top:464.1px;width:33.6px;height:10px;background:#fff;border:.6px solid #e7e9ec;border-radius:0.6px;"></div>
<svg class="a" style="left:207.4px;top:466.1px" width="6" height="6" viewBox="0 0 6 6"><path d="M1.2 4.6 A2.3 2.3 0 1 1 3 5.3" fill="none" stroke="#5a646e" stroke-width=".55"/><path d="M3 1.8 V3.1 H4.1" fill="none" stroke="#5a646e" stroke-width=".5"/><path d="M.3 3.6 L1.2 4.9 L2.2 3.8" fill="none" stroke="#5a646e" stroke-width=".5"/></svg>
<div class="a" style="left:222px;top:464.1px;width:33.7px;height:10px;background:#fff;border:.6px solid #e7e9ec;border-radius:0.6px;"></div>
<svg class="a" style="left:247.4px;top:466.1px" width="6" height="6" viewBox="0 0 6 6"><path d="M1.2 4.6 A2.3 2.3 0 1 1 3 5.3" fill="none" stroke="#5a646e" stroke-width=".55"/><path d="M3 1.8 V3.1 H4.1" fill="none" stroke="#5a646e" stroke-width=".5"/><path d="M.3 3.6 L1.2 4.9 L2.2 3.8" fill="none" stroke="#5a646e" stroke-width=".5"/></svg>
<div class="a" style="left:262.4px;top:464.1px;width:51.4px;height:10px;background:#fff;border:.6px solid #e7e9ec;border-radius:0.6px;"></div>
<svg class="a" style="left:304.5px;top:466.6px" width="6" height="5" viewBox="0 0 6 5"><g stroke="#59626c" stroke-width=".8"><line x1="0" y1="1" x2="1" y2="1"/><line x1="1.8" y1="1" x2="6" y2="1"/><line x1="0" y1="2.5" x2="1" y2="2.5"/><line x1="1.8" y1="2.5" x2="6" y2="2.5"/><line x1="0" y1="4" x2="1" y2="4"/><line x1="1.8" y1="4" x2="6" y2="4"/></g></svg>
<svg class="a" style="left:291.6px;top:466.4px" width="5.4" height="5.4" viewBox="0 0 5.4 5.4"><circle cx="2.7" cy="2.7" r="2.1" fill="none" stroke="#3d4650" stroke-width=".55"/><path d="M1.9 1.9 L3.5 3.5 M3.5 1.9 L1.9 3.5" stroke="#3d4650" stroke-width=".5"/></svg>
<div class="a" style="left:320.2px;top:464.1px;width:66.4px;height:10px;background:#fff;border:.6px solid #e7e9ec;border-radius:0.6px;"></div>
<div class="a" style="left:392.5px;top:464.1px;width:57.9px;height:10px;background:#fff;border:.6px solid #e7e9ec;border-radius:0.6px;"></div>
<div class="a" style="left:456.9px;top:464.1px;width:34.1px;height:10px;background:#fff;border:.6px solid #e7e9ec;border-radius:0.6px;"></div>
<div class="a" style="left:497.2px;top:464.1px;width:27.4px;height:10px;background:#fff;border:.6px solid #e7e9ec;border-radius:0.6px;"></div>
<div class="a" style="left:31px;top:475.8px;width:497.8px;height:13.4px;background:#efefef;"></div>
<svg class="a" style="left:33.8px;top:477px" width="9.2" height="9.2" viewBox="0 0 9.2 9.2"><circle cx="4.6" cy="4.6" r="3.8" fill="#fff" stroke="#3fa8e3" stroke-width="0.9839999999999999"/></svg>
<div class="a" style="left:133.3px;top:477.5px;width:42.6px;height:10px;background:#fff;border:.6px solid #e7e9ec;border-radius:0.6px;"></div>
<svg class="a" style="left:167.8px;top:479.9px" width="5" height="5.2" viewBox="0 0 5 5.2"><rect x=".5" y="1" width="4" height="3.8" fill="none" stroke="#6d757e" stroke-width=".55"/><rect x=".5" y="1" width="4" height="1.1" fill="#6d757e"/><path d="M1.5 .2 V1.2 M3.5 .2 V1.2" stroke="#6d757e" stroke-width=".5"/></svg>
<div class="a" style="left:182px;top:477.5px;width:33.6px;height:10px;background:#fff;border:.6px solid #e7e9ec;border-radius:0.6px;"></div>
<svg class="a" style="left:207.4px;top:479.5px" width="6" height="6" viewBox="0 0 6 6"><path d="M1.2 4.6 A2.3 2.3 0 1 1 3 5.3" fill="none" stroke="#5a646e" stroke-width=".55"/><path d="M3 1.8 V3.1 H4.1" fill="none" stroke="#5a646e" stroke-width=".5"/><path d="M.3 3.6 L1.2 4.9 L2.2 3.8" fill="none" stroke="#5a646e" stroke-width=".5"/></svg>
<div class="a" style="left:222px;top:477.5px;width:33.7px;height:10px;background:#fff;border:.6px solid #e7e9ec;border-radius:0.6px;"></div>
<svg class="a" style="left:247.4px;top:479.5px" width="6" height="6" viewBox="0 0 6 6"><path d="M1.2 4.6 A2.3 2.3 0 1 1 3 5.3" fill="none" stroke="#5a646e" stroke-width=".55"/><path d="M3 1.8 V3.1 H4.1" fill="none" stroke="#5a646e" stroke-width=".5"/><path d="M.3 3.6 L1.2 4.9 L2.2 3.8" fill="none" stroke="#5a646e" stroke-width=".5"/></svg>
<div class="a" style="left:262.4px;top:477.5px;width:51.4px;height:10px;background:#fff;border:.6px solid #e7e9ec;border-radius:0.6px;"></div>
<svg class="a" style="left:304.5px;top:480px" width="6" height="5" viewBox="0 0 6 5"><g stroke="#59626c" stroke-width=".8"><line x1="0" y1="1" x2="1" y2="1"/><line x1="1.8" y1="1" x2="6" y2="1"/><line x1="0" y1="2.5" x2="1" y2="2.5"/><line x1="1.8" y1="2.5" x2="6" y2="2.5"/><line x1="0" y1="4" x2="1" y2="4"/><line x1="1.8" y1="4" x2="6" y2="4"/></g></svg>
<div class="a" style="left:320.2px;top:477.5px;width:66.4px;height:10px;background:#fff;border:.6px solid #e7e9ec;border-radius:0.6px;"></div>
<div class="a" style="left:392.5px;top:477.5px;width:57.9px;height:10px;background:#fff;border:.6px solid #e7e9ec;border-radius:0.6px;"></div>
<div class="a" style="left:456.9px;top:477.5px;width:34.1px;height:10px;background:#fff;border:.6px solid #e7e9ec;border-radius:0.6px;"></div>
<div class="a" style="left:497.2px;top:477.5px;width:27.4px;height:10px;background:#fff;border:.6px solid #e7e9ec;border-radius:0.6px;"></div>
<svg class="a" style="left:546.4px;top:335.32px" width="4.6" height="7.36" viewBox="0 0 4 6.4"><polyline points="3.2,.5 .8,3.2 3.2,5.9" fill="none" stroke="#1f6fc9" stroke-width="1.05"/></svg>
<svg class="a" style="left:560.35px;top:356.5px" width="6.9" height="4.6" viewBox="0 0 6 4"><polyline points=".7,.7 3,3.1 5.3,.7" fill="none" stroke="#333" stroke-width="1.15"/></svg>
<div class="a" style="left:916px;top:351.7px;width:24px;height:11.5px;background:#0b66c6;border:.7px solid #0a55a8;border-radius:5.75px;"></div>
<svg class="a" style="left:930.4px;top:352.9px" width="9.4" height="9.4" viewBox="0 0 9.4 9.4"><circle cx="4.7" cy="4.7" r="3.6" fill="#fff"/></svg>
<div class="a" style="left:554px;top:369.2px;width:434.5px;height:101.4px;background:#fff;"></div>
<div class="a" style="left:616px;top:378px;width:0.6px;height:9.4px;background:#dde0e4;"></div>
<svg class="a" style="left:654.9px;top:377.8px" width="8.4" height="8.4" viewBox="0 0 8.4 8.4"><circle cx="4.2" cy="4.2" r="3.2" fill="none" stroke="#7a828b" stroke-width=".6"/><polyline points="2.8000000000000003,3.7 4.2,5.1 5.6,3.7" fill="none" stroke="#7a828b" stroke-width=".7"/></svg>
<div class="a" style="left:815.7px;top:376.9px;width:81.8px;height:10.3px;background:#fff;border:.6px solid #e3e6e9;border-radius:0.8px;"></div>
<svg class="a" style="left:888.2px;top:379.2px" width="6" height="6" viewBox="0 0 6 6"><circle cx="2.5" cy="2.5" r="2" fill="none" stroke="#445" stroke-width=".7"/><line x1="3.7" y1="3.7" x2="5.4" y2="5.4" stroke="#445" stroke-width=".9"/></svg>
<div class="a" style="left:901.6px;top:377px;width:24px;height:10.1px;background:#fff;border:.6px solid #d2d6da;border-radius:5.05px;"></div>
<svg class="a" style="left:903.82px;top:379.12px" width="5.85" height="5.85" viewBox="0 0 5.85 5.85"><circle cx="2.926000000000006" cy="2.926000000000006" r="2.626000000000006" fill="#b9bec4" stroke="#9aa0a8" stroke-width=".4"/></svg>
<div class="a" style="left:929.7px;top:376.9px;width:12.7px;height:10.3px;background:#fff;border:.6px solid #d6d9dd;border-radius:1.2px;"></div>
<svg class="a" style="left:932px;top:378px" width="8" height="8" viewBox="0 0 8 8"><path d="M1.5 2.5 L1.5 7 L5.5 7 L5.5 5.6 M1.5 2.5 L3 1 L5.5 1 L5.5 2.4" fill="none" stroke="#4a525b" stroke-width=".8"/><rect x="3.2" y="2.8" width="3.8" height="2.6" fill="#4a525b"/></svg>
<div class="a" style="left:946px;top:376.9px;width:12.7px;height:10.3px;background:#fff;border:.6px solid #d6d9dd;border-radius:1.2px;"></div>
<svg class="a" style="left:948.4px;top:378px" width="8" height="8" viewBox="0 0 8 8"><polygon points="1,1.3 7,1.3 4.7,4 4.7,6.8 3.3,6 3.3,4" fill="#223"/><path d="M5.6 5.4 L7.2 7 M7.2 5.4 L5.6 7" stroke="#223" stroke-width=".7"/></svg>
<div class="a" style="left:962.8px;top:376.9px;width:12.7px;height:10.3px;background:#fff;border:.6px solid #d6d9dd;border-radius:1.2px;"></div>
<svg class="a" style="left:965.2px;top:378px" width="8" height="8" viewBox="0 0 8 8"><circle cx="4" cy="4" r="2.5" fill="none" stroke="#7b838c" stroke-width=".8"/><circle cx="4" cy="4" r="0.95" fill="none" stroke="#7b838c" stroke-width=".6"/><circle cx="4" cy="4" r="3.0" fill="none" stroke="#7b838c" stroke-width=".9" stroke-dasharray="1 1.1"/></svg>
<div class="a" style="left:560px;top:389.1px;width:428.5px;height:14.9px;background:#f2f3f4;"></div>
<div class="a" style="left:560px;top:404.15px;width:428.5px;height:13.5px;background:#fff;"></div>
<svg class="a" style="left:563.4px;top:406.6px" width="8.8" height="8.8" viewBox="0 0 8.8 8.8"><circle cx="4.4" cy="4.4" r="3.6" fill="#fff" stroke="#3fa8e3" stroke-width="0.9359999999999999"/></svg>
<div class="a" style="left:560px;top:417.65px;width:428.5px;height:13.5px;background:#efefef;"></div>
<svg class="a" style="left:563.4px;top:420.1px" width="8.8" height="8.8" viewBox="0 0 8.8 8.8"><circle cx="4.4" cy="4.4" r="3.6" fill="#fff" stroke="#3fa8e3" stroke-width="0.9359999999999999"/></svg>
<div class="a" style="left:560px;top:431.15px;width:428.5px;height:13.5px;background:#e4f0fa;"></div>
<svg class="a" style="left:563.4px;top:433.6px" width="8.8" height="8.8" viewBox="0 0 8.8 8.8"><circle cx="4.4" cy="4.4" r="3.9" fill="#0a6ed1"/><polyline points="2.8,4.5 4.0,5.6 6.0,3.2" fill="none" stroke="#fff" stroke-width=".9"/></svg>
<div class="a" style="left:560px;top:444.65px;width:428.5px;height:13.5px;background:#efefef;"></div>
<svg class="a" style="left:563.4px;top:447.1px" width="8.8" height="8.8" viewBox="0 0 8.8 8.8"><circle cx="4.4" cy="4.4" r="3.6" fill="#fff" stroke="#3fa8e3" stroke-width="0.9359999999999999"/></svg>
<div class="a" style="left:560px;top:466.8px;width:428.5px;height:0.6px;background:#e9ebed;"></div>
<div class="a" style="left:622.4px;top:487px;width:0.6px;height:9.4px;background:#dde0e4;"></div>
<svg class="a" style="left:661.4px;top:486.6px" width="8.4" height="8.4" viewBox="0 0 8.4 8.4"><circle cx="4.2" cy="4.2" r="3.2" fill="none" stroke="#7a828b" stroke-width=".6"/><polyline points="2.8000000000000003,3.7 4.2,5.1 5.6,3.7" fill="none" stroke="#7a828b" stroke-width=".7"/></svg>
<div class="a" style="left:816.4px;top:486px;width:82.3px;height:10.3px;background:#fff;border:.6px solid #e3e6e9;border-radius:0.8px;"></div>
<svg class="a" style="left:889.2px;top:488.3px" width="6" height="6" viewBox="0 0 6 6"><circle cx="2.5" cy="2.5" r="2" fill="none" stroke="#445" stroke-width=".7"/><line x1="3.7" y1="3.7" x2="5.4" y2="5.4" stroke="#445" stroke-width=".9"/></svg>
<div class="a" style="left:902.3px;top:486px;width:13.2px;height:10.3px;background:#fff;border:.6px solid #d6d9dd;border-radius:1.2px;"></div>
<svg class="a" style="left:904.9px;top:487.1px" width="8" height="8" viewBox="0 0 8 8"><path d="M1.5 2.5 L1.5 7 L5.5 7 L5.5 5.6 M1.5 2.5 L3 1 L5.5 1 L5.5 2.4" fill="none" stroke="#4a525b" stroke-width=".8"/><rect x="3.2" y="2.8" width="3.8" height="2.6" fill="#4a525b"/></svg>
<div class="a" style="left:919.1px;top:486px;width:12.9px;height:10.3px;background:#fff;border:.6px solid #d6d9dd;border-radius:1.2px;"></div>
<svg class="a" style="left:921.5px;top:487.1px" width="8" height="8" viewBox="0 0 8 8"><polygon points="1,1.3 7,1.3 4.7,4 4.7,6.8 3.3,6 3.3,4" fill="#223"/><path d="M5.6 5.4 L7.2 7 M7.2 5.4 L5.6 7" stroke="#223" stroke-width=".7"/></svg>
<div class="a" style="left:935.9px;top:486px;width:13px;height:10.3px;background:#fff;border:.6px solid #d6d9dd;border-radius:1.2px;"></div>
<svg class="a" style="left:938.9px;top:487.6px" width="7" height="7" viewBox="0 0 7 7"><polyline points="1,3.2 3.5,.9 6,3.2" fill="none" stroke="#223" stroke-width=".9"/><polyline points="1,6 3.5,3.7 6,6" fill="none" stroke="#223" stroke-width=".9"/></svg>
<div class="a" style="left:952.7px;top:486px;width:13px;height:10.3px;background:#fff;border:.6px solid #d6d9dd;border-radius:1.2px;"></div>
<svg class="a" style="left:955.7px;top:487.6px" width="7" height="7" viewBox="0 0 7 7"><polyline points="1,1 3.5,3.3 6,1" fill="none" stroke="#223" stroke-width=".9"/><polyline points="1,3.8 3.5,6.1 6,3.8" fill="none" stroke="#223" stroke-width=".9"/></svg>
<div class="a" style="left:969.5px;top:486px;width:11.3px;height:10.3px;background:#fff;border:.6px solid #d6d9dd;border-radius:1.2px;"></div>
<svg class="a" style="left:971.1px;top:487.1px" width="8" height="8" viewBox="0 0 8 8"><circle cx="4" cy="4" r="2.4" fill="none" stroke="#7b838c" stroke-width=".8"/><circle cx="4" cy="4" r="0.9119999999999999" fill="none" stroke="#7b838c" stroke-width=".6"/><circle cx="4" cy="4" r="2.9" fill="none" stroke="#7b838c" stroke-width=".9" stroke-dasharray="1 1.1"/></svg>
<div class="a" style="left:553.3px;top:498px;width:435.2px;height:14.4px;background:#f4f5f6;"></div>
<div class="a" style="left:553.3px;top:512.4px;width:435.2px;height:29.6px;background:#fff;"></div>
<div class="a" style="left:553.3px;top:526.6px;width:435.2px;height:0.6px;background:#e6e8eb;"></div>
<svg class="a" style="left:560.44px;top:518.16px" width="4.92" height="3.28" viewBox="0 0 6 4"><polyline points=".7,.7 3,3.1 5.3,.7" fill="none" stroke="#333" stroke-width="1.25"/></svg>
<svg class="a" style="left:567.54px;top:531.56px" width="4.92" height="3.28" viewBox="0 0 6 4"><polyline points=".7,.7 3,3.1 5.3,.7" fill="none" stroke="#333" stroke-width="1.25"/></svg>
<svg class="a" id="txt" style="left:0;top:0" width="1000" height="584" viewBox="0 0 1000 584" font-family="Liberation Sans, sans-serif" text-rendering="geometricPrecision">
<text x="222.5" y="45.9" font-size="10.92" fill="#f7931a" stroke="#f7931a" stroke-width="0.22">Übersicht aller Aufträge</text>
<text x="737.2" y="45.22" font-size="10.96" fill="#f7931a" stroke="#f7931a" stroke-width="0.22">Auftragsdetails</text>
<text x="236" y="309.64" font-size="10.72" fill="#f7931a" stroke="#f7931a" stroke-width="0.22">Einsatzplanung</text>
<text x="722" y="342.69" font-size="10.58" fill="#f7931a" stroke="#f7931a" stroke-width="0.22">Rahmenverträge</text>
<text x="19.5" y="58.4" font-size="4.54" fill="#8a939c" font-style="italic" stroke="#8a939c" stroke-width="0.13">-- Variantenauswahl --</text>
<text x="87" y="58.31" font-size="4.27" fill="#7d8791" font-style="italic" stroke="#7d8791" stroke-width="0.12">Freie Suche</text>
<text x="162" y="58.48" font-size="4.79" fill="#1d2d3e" stroke="#1d2d3e" stroke-width="0.13">250</text>
<text x="469.2" y="58.23" font-size="4.33" fill="#1a62ad" stroke="#1a62ad" stroke-width="0.12">Erweiterte Suche</text>
<text x="514.6" y="58.22" font-size="4" fill="#fff" font-weight="bold" stroke="#fff" stroke-width="0.11">Suche</text>
<text x="20.2" y="79.08" font-size="5.71" fill="#1d2d3e" stroke="#1d2d3e" stroke-width="0.07">Gefunden (209)</text>
<text x="65" y="79.11" font-size="5.79" fill="#1d2d3e" stroke="#1d2d3e" stroke-width="0.07">Standard</text>
<text x="414.5" y="77.78" font-size="4.5" fill="#7d8791" font-style="italic" stroke="#7d8791" stroke-width="0.13">Filtern</text>
<text x="482.89" y="77.39" font-size="3.6" fill="#667380" stroke="#667380" stroke-width="0.1">AUS</text>
<text x="27.4" y="89.2" font-size="3.95" fill="#6a7684" stroke="#6a7684" stroke-width="0.11">Status</text>
<text x="45.6" y="89.2" font-size="3.95" fill="#6a7684" stroke="#6a7684" stroke-width="0.11">Statustext</text>
<text x="91.8" y="89.2" font-size="3.95" fill="#6a7684" stroke="#6a7684" stroke-width="0.11">von</text>
<text x="116.5" y="89.2" font-size="3.95" fill="#6a7684" stroke="#6a7684" stroke-width="0.11">Auftrag</text>
<text x="153.2" y="89.2" font-size="3.95" fill="#6a7684" stroke="#6a7684" stroke-width="0.11">Einkaufsbeleg</text>
<text x="189.9" y="89.2" font-size="3.95" fill="#6a7684" stroke="#6a7684" stroke-width="0.11">Kurztext</text>
<text x="267" y="89.2" font-size="3.95" fill="#6a7684" stroke="#6a7684" stroke-width="0.11">Name</text>
<text x="322.2" y="89.2" font-size="3.95" fill="#6a7684" stroke="#6a7684" stroke-width="0.11">Straße</text>
<text x="377" y="89.2" font-size="3.95" fill="#6a7684" stroke="#6a7684" stroke-width="0.11">Postleitzahl</text>
<text x="401.7" y="89.2" font-size="3.95" fill="#6a7684" stroke="#6a7684" stroke-width="0.11">Ort</text>
<text x="487.4" y="89.2" font-size="3.95" fill="#6a7684" stroke="#6a7684" stroke-width="0.11">Währung</text>
<text x="511.5" y="89.2" font-size="3.95" fill="#6a7684" stroke="#6a7684" stroke-width="0.11">Fertigste</text>
<text x="479.3" y="89.2" font-size="3.95" fill="#6a7684" text-anchor="end" stroke="#6a7684" stroke-width="0.11">Auftragswert</text>
<text x="49" y="99.35" font-size="3.8" fill="#1d2d3e" stroke="#1d2d3e" stroke-width="0.11">Angenommen</text>
<text x="91.8" y="99.35" font-size="3.8" fill="#333b44" stroke="#333b44" stroke-width="0.11">04.05.2020</text>
<text x="116.5" y="99.35" font-size="3.8" fill="#0a6ed1" stroke="#0a6ed1" stroke-width="0.11">8000509</text>
<text x="153.2" y="99.35" font-size="3.8" fill="#0a6ed1" stroke="#0a6ed1" stroke-width="0.11">6400000325</text>
<text x="193" y="99.35" font-size="3.8" fill="#1d2d3e" stroke="#1d2d3e" stroke-width="0.11">Herd mit Wasserschaden ersetzen</text>
<text x="269.2" y="99.35" font-size="3.8" fill="#1d2d3e" stroke="#1d2d3e" stroke-width="0.11">Harald Stes</text>
<text x="325" y="99.35" font-size="3.8" fill="#1d2d3e" stroke="#1d2d3e" stroke-width="0.11">Okerstraße 24</text>
<text x="379.9" y="99.35" font-size="3.8" fill="#1d2d3e" stroke="#1d2d3e" stroke-width="0.11">12049</text>
<text x="404.2" y="99.35" font-size="3.8" fill="#1d2d3e" stroke="#1d2d3e" stroke-width="0.11">Berlin</text>
<text x="479.8" y="99.35" font-size="3.8" fill="#1d2d3e" text-anchor="end" stroke="#1d2d3e" stroke-width="0.11">506.99</text>
<text x="490.2" y="99.35" font-size="3.8" fill="#1d2d3e" stroke="#1d2d3e" stroke-width="0.11">EUR</text>
<text x="512" y="99.35" font-size="3.8" fill="#48525c" stroke="#48525c" stroke-width="0.11">11.05.20</text>
<text x="49" y="109.41" font-size="3.8" fill="#1d2d3e" stroke="#1d2d3e" stroke-width="0.11">Unzumutbarkeit</text>
<text x="91.8" y="109.41" font-size="3.8" fill="#333b44" stroke="#333b44" stroke-width="0.11">04.05.2020</text>
<text x="116.5" y="109.41" font-size="3.8" fill="#0a6ed1" stroke="#0a6ed1" stroke-width="0.11">8000508</text>
<text x="153.2" y="109.41" font-size="3.8" fill="#0a6ed1" stroke="#0a6ed1" stroke-width="0.11">6400000324</text>
<text x="193" y="109.41" font-size="3.8" fill="#1d2d3e" stroke="#1d2d3e" stroke-width="0.11">Gebrochenes Rohr ersetzen</text>
<text x="269.2" y="109.41" font-size="3.8" fill="#1d2d3e" stroke="#1d2d3e" stroke-width="0.11">Harald Stes</text>
<text x="325" y="109.41" font-size="3.8" fill="#1d2d3e" stroke="#1d2d3e" stroke-width="0.11">Okerstraße 24</text>
<text x="379.9" y="109.41" font-size="3.8" fill="#1d2d3e" stroke="#1d2d3e" stroke-width="0.11">12049</text>
<text x="404.2" y="109.41" font-size="3.8" fill="#1d2d3e" stroke="#1d2d3e" stroke-width="0.11">Berlin</text>
<text x="479.8" y="109.41" font-size="3.8" fill="#1d2d3e" text-anchor="end" stroke="#1d2d3e" stroke-width="0.11">162.63</text>
<text x="490.2" y="109.41" font-size="3.8" fill="#1d2d3e" stroke="#1d2d3e" stroke-width="0.11">EUR</text>
<text x="512" y="109.41" font-size="3.8" fill="#48525c" stroke="#48525c" stroke-width="0.11">11.05.20</text>
<text x="49" y="119.47" font-size="3.8" fill="#1d2d3e" stroke="#1d2d3e" stroke-width="0.11">Angenommen</text>
<text x="91.8" y="119.47" font-size="3.8" fill="#333b44" stroke="#333b44" stroke-width="0.11">04.05.2020</text>
<text x="116.5" y="119.47" font-size="3.8" fill="#0a6ed1" stroke="#0a6ed1" stroke-width="0.11">8000507</text>
<text x="153.2" y="119.47" font-size="3.8" fill="#0a6ed1" stroke="#0a6ed1" stroke-width="0.11">6400000323</text>
<text x="193" y="119.47" font-size="3.8" fill="#1d2d3e" stroke="#1d2d3e" stroke-width="0.11">Zerbrochene Fensterkrie entfernen</text>
<text x="269.2" y="119.47" font-size="3.8" fill="#1d2d3e" stroke="#1d2d3e" stroke-width="0.11">Cosima Scherer</text>
<text x="325" y="119.47" font-size="3.8" fill="#1d2d3e" stroke="#1d2d3e" stroke-width="0.11">Spindelmuhler Weg 31</text>
<text x="379.9" y="119.47" font-size="3.8" fill="#1d2d3e" stroke="#1d2d3e" stroke-width="0.11">12205</text>
<text x="404.2" y="119.47" font-size="3.8" fill="#1d2d3e" stroke="#1d2d3e" stroke-width="0.11">Berlin</text>
<text x="479.8" y="119.47" font-size="3.8" fill="#1d2d3e" text-anchor="end" stroke="#1d2d3e" stroke-width="0.11">70.30</text>
<text x="490.2" y="119.47" font-size="3.8" fill="#1d2d3e" stroke="#1d2d3e" stroke-width="0.11">EUR</text>
<text x="512" y="119.47" font-size="3.8" fill="#48525c" stroke="#48525c" stroke-width="0.11">11.05.20</text>
<text x="49" y="129.53" font-size="3.8" fill="#1d2d3e" stroke="#1d2d3e" stroke-width="0.11">neuer Auftrag</text>
<text x="91.8" y="129.53" font-size="3.8" fill="#333b44" stroke="#333b44" stroke-width="0.11">04.05.2020</text>
<text x="116.5" y="129.53" font-size="3.8" fill="#0a6ed1" stroke="#0a6ed1" stroke-width="0.11">8000506</text>
<text x="153.2" y="129.53" font-size="3.8" fill="#0a6ed1" stroke="#0a6ed1" stroke-width="0.11">6400000322</text>
<text x="193" y="129.53" font-size="3.8" fill="#1d2d3e" stroke="#1d2d3e" stroke-width="0.11">Beschädigte Steckdose erneuern</text>
<text x="269.2" y="129.53" font-size="3.8" fill="#1d2d3e" stroke="#1d2d3e" stroke-width="0.11">Cosima Scherer</text>
<text x="325" y="129.53" font-size="3.8" fill="#1d2d3e" stroke="#1d2d3e" stroke-width="0.11">Spindelmuhler Weg 31</text>
<text x="379.9" y="129.53" font-size="3.8" fill="#1d2d3e" stroke="#1d2d3e" stroke-width="0.11">12205</text>
<text x="404.2" y="129.53" font-size="3.8" fill="#1d2d3e" stroke="#1d2d3e" stroke-width="0.11">Berlin</text>
<text x="479.8" y="129.53" font-size="3.8" fill="#1d2d3e" text-anchor="end" stroke="#1d2d3e" stroke-width="0.11">80.56</text>
<text x="490.2" y="129.53" font-size="3.8" fill="#1d2d3e" stroke="#1d2d3e" stroke-width="0.11">EUR</text>
<text x="512" y="129.53" font-size="3.8" fill="#48525c" stroke="#48525c" stroke-width="0.11">11.05.20</text>
<text x="49" y="139.59" font-size="3.8" fill="#1d2d3e" stroke="#1d2d3e" stroke-width="0.11">Angenommen</text>
<text x="91.8" y="139.59" font-size="3.8" fill="#333b44" stroke="#333b44" stroke-width="0.11">04.05.2020</text>
<text x="116.5" y="139.59" font-size="3.8" fill="#0a6ed1" stroke="#0a6ed1" stroke-width="0.11">8000505</text>
<text x="153.2" y="139.59" font-size="3.8" fill="#0a6ed1" stroke="#0a6ed1" stroke-width="0.11">6400000321</text>
<text x="193" y="139.59" font-size="3.8" fill="#1d2d3e" stroke="#1d2d3e" stroke-width="0.11">Kaputtes Dachfenster austauschen</text>
<text x="269.2" y="139.59" font-size="3.8" fill="#1d2d3e" stroke="#1d2d3e" stroke-width="0.11">Cosima Scherer</text>
<text x="325" y="139.59" font-size="3.8" fill="#1d2d3e" stroke="#1d2d3e" stroke-width="0.11">Spindelmuhler Weg 31</text>
<text x="379.9" y="139.59" font-size="3.8" fill="#1d2d3e" stroke="#1d2d3e" stroke-width="0.11">12205</text>
<text x="404.2" y="139.59" font-size="3.8" fill="#1d2d3e" stroke="#1d2d3e" stroke-width="0.11">Berlin</text>
<text x="479.8" y="139.59" font-size="3.8" fill="#1d2d3e" text-anchor="end" stroke="#1d2d3e" stroke-width="0.11">289.20</text>
<text x="490.2" y="139.59" font-size="3.8" fill="#1d2d3e" stroke="#1d2d3e" stroke-width="0.11">EUR</text>
<text x="512" y="139.59" font-size="3.8" fill="#48525c" stroke="#48525c" stroke-width="0.11">11.05.20</text>
<text x="49" y="149.65" font-size="3.8" fill="#1d2d3e" stroke="#1d2d3e" stroke-width="0.11">Keine Kapazität</text>
<text x="91.8" y="149.65" font-size="3.8" fill="#333b44" stroke="#333b44" stroke-width="0.11">04.05.2020</text>
<text x="116.5" y="149.65" font-size="3.8" fill="#0a6ed1" stroke="#0a6ed1" stroke-width="0.11">8000504</text>
<text x="153.2" y="149.65" font-size="3.8" fill="#0a6ed1" stroke="#0a6ed1" stroke-width="0.11">6400000320</text>
<text x="193" y="149.65" font-size="3.8" fill="#1d2d3e" stroke="#1d2d3e" stroke-width="0.11">Defekten Lichtschalter ersetzen</text>
<text x="269.2" y="149.65" font-size="3.8" fill="#1d2d3e" stroke="#1d2d3e" stroke-width="0.11">Alke Zeißig</text>
<text x="325" y="149.65" font-size="3.8" fill="#1d2d3e" stroke="#1d2d3e" stroke-width="0.11">Kurfürstenstraße 10</text>
<text x="379.9" y="149.65" font-size="3.8" fill="#1d2d3e" stroke="#1d2d3e" stroke-width="0.11">12249</text>
<text x="404.2" y="149.65" font-size="3.8" fill="#1d2d3e" stroke="#1d2d3e" stroke-width="0.11">Berlin</text>
<text x="479.8" y="149.65" font-size="3.8" fill="#1d2d3e" text-anchor="end" stroke="#1d2d3e" stroke-width="0.11">54.20</text>
<text x="490.2" y="149.65" font-size="3.8" fill="#1d2d3e" stroke="#1d2d3e" stroke-width="0.11">EUR</text>
<text x="512" y="149.65" font-size="3.8" fill="#48525c" stroke="#48525c" stroke-width="0.11">11.05.20</text>
<text x="49" y="159.71" font-size="3.8" fill="#1d2d3e" stroke="#1d2d3e" stroke-width="0.11">Angenommen</text>
<text x="91.8" y="159.71" font-size="3.8" fill="#333b44" stroke="#333b44" stroke-width="0.11">04.05.2020</text>
<text x="116.5" y="159.71" font-size="3.8" fill="#0a6ed1" stroke="#0a6ed1" stroke-width="0.11">8000503</text>
<text x="153.2" y="159.71" font-size="3.8" fill="#0a6ed1" stroke="#0a6ed1" stroke-width="0.11">6400000319</text>
<text x="193" y="159.71" font-size="3.8" fill="#1d2d3e" stroke="#1d2d3e" stroke-width="0.11">Aufgequollenen Bodenbelag ersetzen</text>
<text x="269.2" y="159.71" font-size="3.8" fill="#1d2d3e" stroke="#1d2d3e" stroke-width="0.11">Alke Zeißig</text>
<text x="325" y="159.71" font-size="3.8" fill="#1d2d3e" stroke="#1d2d3e" stroke-width="0.11">Kurfürstenstraße 10</text>
<text x="379.9" y="159.71" font-size="3.8" fill="#1d2d3e" stroke="#1d2d3e" stroke-width="0.11">12249</text>
<text x="404.2" y="159.71" font-size="3.8" fill="#1d2d3e" stroke="#1d2d3e" stroke-width="0.11">Berlin</text>
<text x="479.8" y="159.71" font-size="3.8" fill="#1d2d3e" text-anchor="end" stroke="#1d2d3e" stroke-width="0.11">84.40</text>
<text x="490.2" y="159.71" font-size="3.8" fill="#1d2d3e" stroke="#1d2d3e" stroke-width="0.11">EUR</text>
<text x="512" y="159.71" font-size="3.8" fill="#48525c" stroke="#48525c" stroke-width="0.11">11.05.20</text>
<text x="49" y="169.77" font-size="3.8" fill="#1d2d3e" stroke="#1d2d3e" stroke-width="0.11">Angenommen</text>
<text x="91.8" y="169.77" font-size="3.8" fill="#333b44" stroke="#333b44" stroke-width="0.11">04.05.2020</text>
<text x="116.5" y="169.77" font-size="3.8" fill="#0a6ed1" stroke="#0a6ed1" stroke-width="0.11">8000502</text>
<text x="153.2" y="169.77" font-size="3.8" fill="#0a6ed1" stroke="#0a6ed1" stroke-width="0.11">6400000318</text>
<text x="193" y="169.77" font-size="3.8" fill="#1d2d3e" stroke="#1d2d3e" stroke-width="0.11">Gebrochenes Rohr ersetzen</text>
<text x="269.2" y="169.77" font-size="3.8" fill="#1d2d3e" stroke="#1d2d3e" stroke-width="0.11">Alke Zeißig</text>
<text x="325" y="169.77" font-size="3.8" fill="#1d2d3e" stroke="#1d2d3e" stroke-width="0.11">Kurfürstenstraße 10</text>
<text x="379.9" y="169.77" font-size="3.8" fill="#1d2d3e" stroke="#1d2d3e" stroke-width="0.11">12249</text>
<text x="404.2" y="169.77" font-size="3.8" fill="#1d2d3e" stroke="#1d2d3e" stroke-width="0.11">Berlin</text>
<text x="479.8" y="169.77" font-size="3.8" fill="#1d2d3e" text-anchor="end" stroke="#1d2d3e" stroke-width="0.11">83.00</text>
<text x="490.2" y="169.77" font-size="3.8" fill="#1d2d3e" stroke="#1d2d3e" stroke-width="0.11">EUR</text>
<text x="512" y="169.77" font-size="3.8" fill="#48525c" stroke="#48525c" stroke-width="0.11">11.05.20</text>
<text x="49" y="179.83" font-size="3.8" fill="#1d2d3e" stroke="#1d2d3e" stroke-width="0.11">Angenommen</text>
<text x="91.8" y="179.83" font-size="3.8" fill="#333b44" stroke="#333b44" stroke-width="0.11">21.04.2020</text>
<text x="116.5" y="179.83" font-size="3.8" fill="#0a6ed1" stroke="#0a6ed1" stroke-width="0.11">8000501</text>
<text x="153.2" y="179.83" font-size="3.8" fill="#0a6ed1" stroke="#0a6ed1" stroke-width="0.11">6400000317</text>
<text x="193" y="179.83" font-size="3.8" fill="#1d2d3e" stroke="#1d2d3e" stroke-width="0.11">überprüfen</text>
<text x="269.2" y="179.83" font-size="3.8" fill="#1d2d3e" stroke="#1d2d3e" stroke-width="0.11">Tobias Muller</text>
<text x="325" y="179.83" font-size="3.8" fill="#1d2d3e" stroke="#1d2d3e" stroke-width="0.11">Eisenstraße 69</text>
<text x="379.9" y="179.83" font-size="3.8" fill="#1d2d3e" stroke="#1d2d3e" stroke-width="0.11">12059</text>
<text x="404.2" y="179.83" font-size="3.8" fill="#1d2d3e" stroke="#1d2d3e" stroke-width="0.11">Berlin</text>
<text x="479.8" y="179.83" font-size="3.8" fill="#1d2d3e" text-anchor="end" stroke="#1d2d3e" stroke-width="0.11">100.00</text>
<text x="490.2" y="179.83" font-size="3.8" fill="#1d2d3e" stroke="#1d2d3e" stroke-width="0.11">EUR</text>
<text x="512" y="179.83" font-size="3.8" fill="#48525c" stroke="#48525c" stroke-width="0.11">05.05.20</text>
<text x="49" y="189.89" font-size="3.8" fill="#1d2d3e" stroke="#1d2d3e" stroke-width="0.11">neuer Auftrag</text>
<text x="91.8" y="189.89" font-size="3.8" fill="#333b44" stroke="#333b44" stroke-width="0.11">21.04.2020</text>
<text x="116.5" y="189.89" font-size="3.8" fill="#0a6ed1" stroke="#0a6ed1" stroke-width="0.11">8000497</text>
<text x="153.2" y="189.89" font-size="3.8" fill="#0a6ed1" stroke="#0a6ed1" stroke-width="0.11">6400000313</text>
<text x="193" y="189.89" font-size="3.8" fill="#1d2d3e" stroke="#1d2d3e" stroke-width="0.11">überprüfen</text>
<text x="269.2" y="189.89" font-size="3.8" fill="#1d2d3e" stroke="#1d2d3e" stroke-width="0.11">Tobias Muller</text>
<text x="325" y="189.89" font-size="3.8" fill="#1d2d3e" stroke="#1d2d3e" stroke-width="0.11">Eisenstraße 69</text>
<text x="379.9" y="189.89" font-size="3.8" fill="#1d2d3e" stroke="#1d2d3e" stroke-width="0.11">12059</text>
<text x="404.2" y="189.89" font-size="3.8" fill="#1d2d3e" stroke="#1d2d3e" stroke-width="0.11">Berlin</text>
<text x="479.8" y="189.89" font-size="3.8" fill="#1d2d3e" text-anchor="end" stroke="#1d2d3e" stroke-width="0.11">241.82</text>
<text x="490.2" y="189.89" font-size="3.8" fill="#1d2d3e" stroke="#1d2d3e" stroke-width="0.11">EUR</text>
<text x="512" y="189.89" font-size="3.8" fill="#48525c" stroke="#48525c" stroke-width="0.11">28.04.20</text>
<text x="49" y="199.95" font-size="3.8" fill="#1d2d3e" stroke="#1d2d3e" stroke-width="0.11">neuer Auftrag</text>
<text x="91.8" y="199.95" font-size="3.8" fill="#333b44" stroke="#333b44" stroke-width="0.11">21.04.2020</text>
<text x="116.5" y="199.95" font-size="3.8" fill="#0a6ed1" stroke="#0a6ed1" stroke-width="0.11">8000496</text>
<text x="153.2" y="199.95" font-size="3.8" fill="#0a6ed1" stroke="#0a6ed1" stroke-width="0.11">6400000312</text>
<text x="193" y="199.95" font-size="3.8" fill="#1d2d3e" stroke="#1d2d3e" stroke-width="0.11">überprüfen</text>
<text x="269.2" y="199.95" font-size="3.8" fill="#1d2d3e" stroke="#1d2d3e" stroke-width="0.11">Tobias Muller</text>
<text x="325" y="199.95" font-size="3.8" fill="#1d2d3e" stroke="#1d2d3e" stroke-width="0.11">Eisenstraße 69</text>
<text x="379.9" y="199.95" font-size="3.8" fill="#1d2d3e" stroke="#1d2d3e" stroke-width="0.11">12059</text>
<text x="404.2" y="199.95" font-size="3.8" fill="#1d2d3e" stroke="#1d2d3e" stroke-width="0.11">Berlin</text>
<text x="479.8" y="199.95" font-size="3.8" fill="#1d2d3e" text-anchor="end" stroke="#1d2d3e" stroke-width="0.11">5.000.00</text>
<text x="490.2" y="199.95" font-size="3.8" fill="#1d2d3e" stroke="#1d2d3e" stroke-width="0.11">EUR</text>
<text x="512" y="199.95" font-size="3.8" fill="#48525c" stroke="#48525c" stroke-width="0.11">28.04.20</text>
<text x="49" y="210.01" font-size="3.8" fill="#1d2d3e" stroke="#1d2d3e" stroke-width="0.11">Freigegeben vom AG</text>
<text x="91.8" y="210.01" font-size="3.8" fill="#333b44" stroke="#333b44" stroke-width="0.11">20.04.2020</text>
<text x="116.5" y="210.01" font-size="3.8" fill="#0a6ed1" stroke="#0a6ed1" stroke-width="0.11">8000495</text>
<text x="153.2" y="210.01" font-size="3.8" fill="#0a6ed1" stroke="#0a6ed1" stroke-width="0.11">6400000311</text>
<text x="193" y="210.01" font-size="3.8" fill="#1d2d3e" stroke="#1d2d3e" stroke-width="0.11">überprüfen</text>
<text x="269.2" y="210.01" font-size="3.8" fill="#1d2d3e" stroke="#1d2d3e" stroke-width="0.11">Tobias Muller</text>
<text x="325" y="210.01" font-size="3.8" fill="#1d2d3e" stroke="#1d2d3e" stroke-width="0.11">Eisenstraße 69</text>
<text x="379.9" y="210.01" font-size="3.8" fill="#1d2d3e" stroke="#1d2d3e" stroke-width="0.11">12059</text>
<text x="404.2" y="210.01" font-size="3.8" fill="#1d2d3e" stroke="#1d2d3e" stroke-width="0.11">Berlin</text>
<text x="479.8" y="210.01" font-size="3.8" fill="#1d2d3e" text-anchor="end" stroke="#1d2d3e" stroke-width="0.11">100.00</text>
<text x="490.2" y="210.01" font-size="3.8" fill="#1d2d3e" stroke="#1d2d3e" stroke-width="0.11">EUR</text>
<text x="512" y="210.01" font-size="3.8" fill="#48525c" stroke="#48525c" stroke-width="0.11">27.04.20</text>
<text x="49" y="220.07" font-size="3.8" fill="#1d2d3e" stroke="#1d2d3e" stroke-width="0.11">LEB freigegeben</text>
<text x="91.8" y="220.07" font-size="3.8" fill="#333b44" stroke="#333b44" stroke-width="0.11">08.04.2020</text>
<text x="116.5" y="220.07" font-size="3.8" fill="#0a6ed1" stroke="#0a6ed1" stroke-width="0.11">8000494</text>
<text x="153.2" y="220.07" font-size="3.8" fill="#0a6ed1" stroke="#0a6ed1" stroke-width="0.11">6400000310</text>
<text x="193" y="220.07" font-size="3.8" fill="#1d2d3e" stroke="#1d2d3e" stroke-width="0.11">überprüfen</text>
<text x="269.2" y="220.07" font-size="3.8" fill="#1d2d3e" stroke="#1d2d3e" stroke-width="0.11">Tobias Muller</text>
<text x="325" y="220.07" font-size="3.8" fill="#1d2d3e" stroke="#1d2d3e" stroke-width="0.11">Eisenstraße 69</text>
<text x="379.9" y="220.07" font-size="3.8" fill="#1d2d3e" stroke="#1d2d3e" stroke-width="0.11">12059</text>
<text x="404.2" y="220.07" font-size="3.8" fill="#1d2d3e" stroke="#1d2d3e" stroke-width="0.11">Berlin</text>
<text x="479.8" y="220.07" font-size="3.8" fill="#1d2d3e" text-anchor="end" stroke="#1d2d3e" stroke-width="0.11">100.00</text>
<text x="490.2" y="220.07" font-size="3.8" fill="#1d2d3e" stroke="#1d2d3e" stroke-width="0.11">EUR</text>
<text x="512" y="220.07" font-size="3.8" fill="#48525c" stroke="#48525c" stroke-width="0.11">15.04.20</text>
<text x="49" y="230.13" font-size="3.8" fill="#1d2d3e" stroke="#1d2d3e" stroke-width="0.11">Angenommen</text>
<text x="91.8" y="230.13" font-size="3.8" fill="#333b44" stroke="#333b44" stroke-width="0.11">06.04.2020</text>
<text x="116.5" y="230.13" font-size="3.8" fill="#0a6ed1" stroke="#0a6ed1" stroke-width="0.11">8000493</text>
<text x="153.2" y="230.13" font-size="3.8" fill="#0a6ed1" stroke="#0a6ed1" stroke-width="0.11">6400000309</text>
<text x="193" y="230.13" font-size="3.8" fill="#1d2d3e" stroke="#1d2d3e" stroke-width="0.11">Sicherungskasten überprüfen</text>
<text x="269.2" y="230.13" font-size="3.8" fill="#1d2d3e" stroke="#1d2d3e" stroke-width="0.11">Suleyman Gette</text>
<text x="325" y="230.13" font-size="3.8" fill="#1d2d3e" stroke="#1d2d3e" stroke-width="0.11">Okerstraße 23</text>
<text x="379.9" y="230.13" font-size="3.8" fill="#1d2d3e" stroke="#1d2d3e" stroke-width="0.11">12049</text>
<text x="404.2" y="230.13" font-size="3.8" fill="#1d2d3e" stroke="#1d2d3e" stroke-width="0.11">Berlin</text>
<text x="479.8" y="230.13" font-size="3.8" fill="#1d2d3e" text-anchor="end" stroke="#1d2d3e" stroke-width="0.11">179.29</text>
<text x="490.2" y="230.13" font-size="3.8" fill="#1d2d3e" stroke="#1d2d3e" stroke-width="0.11">EUR</text>
<text x="512" y="230.13" font-size="3.8" fill="#48525c" stroke="#48525c" stroke-width="0.11">13.04.20</text>
<text x="49" y="240.19" font-size="3.8" fill="#1d2d3e" stroke="#1d2d3e" stroke-width="0.11">Angenommen</text>
<text x="91.8" y="240.19" font-size="3.8" fill="#333b44" stroke="#333b44" stroke-width="0.11">06.04.2020</text>
<text x="116.5" y="240.19" font-size="3.8" fill="#0a6ed1" stroke="#0a6ed1" stroke-width="0.11">8000492</text>
<text x="153.2" y="240.19" font-size="3.8" fill="#0a6ed1" stroke="#0a6ed1" stroke-width="0.11">6400000308</text>
<text x="193" y="240.19" font-size="3.8" fill="#1d2d3e" stroke="#1d2d3e" stroke-width="0.11">Fußboden nach Brand erneuern</text>
<text x="269.2" y="240.19" font-size="3.8" fill="#1d2d3e" stroke="#1d2d3e" stroke-width="0.11">Suleyman Gette</text>
<text x="325" y="240.19" font-size="3.8" fill="#1d2d3e" stroke="#1d2d3e" stroke-width="0.11">Okerstraße 23</text>
<text x="379.9" y="240.19" font-size="3.8" fill="#1d2d3e" stroke="#1d2d3e" stroke-width="0.11">12049</text>
<text x="404.2" y="240.19" font-size="3.8" fill="#1d2d3e" stroke="#1d2d3e" stroke-width="0.11">Berlin</text>
<text x="479.8" y="240.19" font-size="3.8" fill="#1d2d3e" text-anchor="end" stroke="#1d2d3e" stroke-width="0.11">89.29</text>
<text x="490.2" y="240.19" font-size="3.8" fill="#1d2d3e" stroke="#1d2d3e" stroke-width="0.11">EUR</text>
<text x="512" y="240.19" font-size="3.8" fill="#48525c" stroke="#48525c" stroke-width="0.11">13.04.20</text>
<text x="49" y="250.25" font-size="3.8" fill="#1d2d3e" stroke="#1d2d3e" stroke-width="0.11">neuer Auftrag</text>
<text x="91.8" y="250.25" font-size="3.8" fill="#333b44" stroke="#333b44" stroke-width="0.11">06.04.2020</text>
<text x="116.5" y="250.25" font-size="3.8" fill="#0a6ed1" stroke="#0a6ed1" stroke-width="0.11">8000491</text>
<text x="153.2" y="250.25" font-size="3.8" fill="#0a6ed1" stroke="#0a6ed1" stroke-width="0.11">6400000307</text>
<text x="193" y="250.25" font-size="3.8" fill="#1d2d3e" stroke="#1d2d3e" stroke-width="0.11">Defekten E-Herd ersetzen</text>
<text x="269.2" y="250.25" font-size="3.8" fill="#1d2d3e" stroke="#1d2d3e" stroke-width="0.11">Suleyman Gette</text>
<text x="325" y="250.25" font-size="3.8" fill="#1d2d3e" stroke="#1d2d3e" stroke-width="0.11">Okerstraße 23</text>
<text x="379.9" y="250.25" font-size="3.8" fill="#1d2d3e" stroke="#1d2d3e" stroke-width="0.11">12049</text>
<text x="404.2" y="250.25" font-size="3.8" fill="#1d2d3e" stroke="#1d2d3e" stroke-width="0.11">Berlin</text>
<text x="479.8" y="250.25" font-size="3.8" fill="#1d2d3e" text-anchor="end" stroke="#1d2d3e" stroke-width="0.11">632.95</text>
<text x="490.2" y="250.25" font-size="3.8" fill="#1d2d3e" stroke="#1d2d3e" stroke-width="0.11">EUR</text>
<text x="512" y="250.25" font-size="3.8" fill="#48525c" stroke="#48525c" stroke-width="0.11">13.04.20</text>
<text x="49" y="260.31" font-size="3.8" fill="#1d2d3e" stroke="#1d2d3e" stroke-width="0.11">neuer Auftrag</text>
<text x="91.8" y="260.31" font-size="3.8" fill="#333b44" stroke="#333b44" stroke-width="0.11">03.04.2020</text>
<text x="116.5" y="260.31" font-size="3.8" fill="#0a6ed1" stroke="#0a6ed1" stroke-width="0.11">8000490</text>
<text x="153.2" y="260.31" font-size="3.8" fill="#0a6ed1" stroke="#0a6ed1" stroke-width="0.11">6400000306</text>
<text x="193" y="260.31" font-size="3.8" fill="#1d2d3e" stroke="#1d2d3e" stroke-width="0.11">Beschädigte Hausnummernleuchte ers-</text>
<text x="269.2" y="260.31" font-size="3.8" fill="#1d2d3e" stroke="#1d2d3e" stroke-width="0.11">Gabriele Weng</text>
<text x="325" y="260.31" font-size="3.8" fill="#1d2d3e" stroke="#1d2d3e" stroke-width="0.11">Spindelmuhler Weg 23</text>
<text x="379.9" y="260.31" font-size="3.8" fill="#1d2d3e" stroke="#1d2d3e" stroke-width="0.11">12205</text>
<text x="404.2" y="260.31" font-size="3.8" fill="#1d2d3e" stroke="#1d2d3e" stroke-width="0.11">Berlin</text>
<text x="479.8" y="260.31" font-size="3.8" fill="#1d2d3e" text-anchor="end" stroke="#1d2d3e" stroke-width="0.11">134.08</text>
<text x="490.2" y="260.31" font-size="3.8" fill="#1d2d3e" stroke="#1d2d3e" stroke-width="0.11">EUR</text>
<text x="512" y="260.31" font-size="3.8" fill="#48525c" stroke="#48525c" stroke-width="0.11">10.04.20</text>
<text x="49" y="270.37" font-size="3.8" fill="#1d2d3e" stroke="#1d2d3e" stroke-width="0.11">neuer Auftrag</text>
<text x="91.8" y="270.37" font-size="3.8" fill="#333b44" stroke="#333b44" stroke-width="0.11">03.04.2020</text>
<text x="116.5" y="270.37" font-size="3.8" fill="#0a6ed1" stroke="#0a6ed1" stroke-width="0.11">8000489</text>
<text x="153.2" y="270.37" font-size="3.8" fill="#0a6ed1" stroke="#0a6ed1" stroke-width="0.11">6400000305</text>
<text x="193" y="270.37" font-size="3.8" fill="#1d2d3e" stroke="#1d2d3e" stroke-width="0.11">Dachrinne erneuern</text>
<text x="269.2" y="270.37" font-size="3.8" fill="#1d2d3e" stroke="#1d2d3e" stroke-width="0.11">Gabriele Weng</text>
<text x="325" y="270.37" font-size="3.8" fill="#1d2d3e" stroke="#1d2d3e" stroke-width="0.11">Spindelmuhler Weg 23</text>
<text x="379.9" y="270.37" font-size="3.8" fill="#1d2d3e" stroke="#1d2d3e" stroke-width="0.11">12205</text>
<text x="404.2" y="270.37" font-size="3.8" fill="#1d2d3e" stroke="#1d2d3e" stroke-width="0.11">Berlin</text>
<text x="479.8" y="270.37" font-size="3.8" fill="#1d2d3e" text-anchor="end" stroke="#1d2d3e" stroke-width="0.11">192.40</text>
<text x="490.2" y="270.37" font-size="3.8" fill="#1d2d3e" stroke="#1d2d3e" stroke-width="0.11">EUR</text>
<text x="512" y="270.37" font-size="3.8" fill="#48525c" stroke="#48525c" stroke-width="0.11">10.04.20</text>
<text x="551" y="57.8" font-size="6.06" fill="#2b3642" stroke="#2b3642" stroke-width="0.07">Erfassungsbl. AN: RE-2020-1325245</text>
<text x="551" y="69" font-size="6.05" fill="#2b3642" stroke="#2b3642" stroke-width="0.07">Erfassungsbl. AG:</text>
<text x="551" y="86.37" font-size="4.45" fill="#1d2d3e" stroke="#1d2d3e" stroke-width="0.12">Sicherungskasten überprüfen</text>
<text x="551" y="93.67" font-size="4.45" fill="#1d2d3e" stroke="#1d2d3e" stroke-width="0.12">Suleyman Gette</text>
<text x="551" y="100.83" font-size="4.35" fill="#1d2d3e" stroke="#1d2d3e" stroke-width="0.12">Okerstraße 23, 12049 Berlin</text>
<text x="982" y="59.34" font-size="7.1" fill="#1e8a43" text-anchor="end" font-weight="bold" stroke="#1e8a43" stroke-width="0.09">Angelegt</text>
<text x="982" y="67.4" font-size="4.25" fill="#1d2d3e" text-anchor="end" stroke="#1d2d3e" stroke-width="0.12">29.05.2020</text>
<text x="958.6" y="67.4" font-size="4.25" fill="#66727f" text-anchor="end" stroke="#66727f" stroke-width="0.12">Leistungsende:</text>
<text x="982" y="86.9" font-size="4.25" fill="#1d2d3e" text-anchor="end" stroke="#1d2d3e" stroke-width="0.12">179.29 EUR</text>
<text x="957.4" y="86.9" font-size="4.25" fill="#66727f" text-anchor="end" stroke="#66727f" stroke-width="0.12">Netto:</text>
<text x="573.3" y="133.74" font-size="3.75" fill="#6b7682" text-anchor="middle" stroke="#6b7682" stroke-width="0.1">Kopfdaten</text>
<text x="608.4" y="117.78" font-size="3.56" fill="#333" text-anchor="middle" font-weight="bold" stroke="#333" stroke-width="0.1">5</text>
<text x="599.7" y="133.74" font-size="3.75" fill="#6b7682" text-anchor="middle" stroke="#6b7682" stroke-width="0.1">LV-Positionen</text>
<text x="634.9" y="117.78" font-size="3.56" fill="#333" text-anchor="middle" font-weight="bold" stroke="#333" stroke-width="0.1">0</text>
<text x="626.2" y="133.74" font-size="3.75" fill="#6b7682" text-anchor="middle" stroke="#6b7682" stroke-width="0.1">Anlagen</text>
<text x="593.6" y="158.79" font-size="4.8" fill="#1d2d3e" stroke="#1d2d3e" stroke-width="0.13">Kopfdaten</text>
<text x="753.5" y="158.81" font-size="4.89" fill="#1d2d3e" stroke="#1d2d3e" stroke-width="0.14">Beschreibung</text>
<text x="921.6" y="158.83" font-size="4.95" fill="#1d2d3e" stroke="#1d2d3e" stroke-width="0.14">Zahldaten</text>
<text x="588.9" y="171.05" font-size="4.38" fill="#66727f" text-anchor="end" stroke="#66727f" stroke-width="0.12">Erfassungsbl. AN:</text>
<text x="588.9" y="180.73" font-size="4.38" fill="#66727f" text-anchor="end" stroke="#66727f" stroke-width="0.12">Zeitraum:</text>
<text x="588.9" y="190.41" font-size="4.38" fill="#66727f" text-anchor="end" stroke="#66727f" stroke-width="0.12">Mitarbeiter AN:</text>
<text x="588.9" y="200.09" font-size="4.38" fill="#66727f" text-anchor="end" stroke="#66727f" stroke-width="0.12">Einkaufsbeleg:</text>
<text x="588.9" y="209.77" font-size="4.38" fill="#66727f" text-anchor="end" stroke="#66727f" stroke-width="0.12">Auftrag:</text>
<text x="588.9" y="219.45" font-size="4.38" fill="#66727f" text-anchor="end" stroke="#66727f" stroke-width="0.12">Erfassungsbl. AG:</text>
<text x="588.9" y="229.13" font-size="4.38" fill="#66727f" text-anchor="end" stroke="#66727f" stroke-width="0.12">Enderfassung:</text>
<text x="588.9" y="238.81" font-size="4.38" fill="#66727f" text-anchor="end" stroke="#66727f" stroke-width="0.12">Angelegt am:</text>
<text x="588.9" y="248.49" font-size="4.38" fill="#66727f" text-anchor="end" stroke="#66727f" stroke-width="0.12">Vorgangstyp:</text>
<text x="588.9" y="258.17" font-size="4.38" fill="#66727f" text-anchor="end" stroke="#66727f" stroke-width="0.12">Druckdatum:</text>
<text x="594.9" y="171.04" font-size="4.35" fill="#1d2d3e" stroke="#1d2d3e" stroke-width="0.12">RE-2020-1325245</text>
<text x="594.9" y="180.72" font-size="4.35" fill="#1d2d3e" stroke="#1d2d3e" stroke-width="0.12">29.05.2020</text>
<text x="653.5" y="180.72" font-size="4.35" fill="#1d2d3e" stroke="#1d2d3e" stroke-width="0.12">29.05.2020</text>
<text x="594.9" y="190.4" font-size="4.35" fill="#1d2d3e" stroke="#1d2d3e" stroke-width="0.12">HWKTEST</text>
<text x="594.9" y="200.08" font-size="4.35" fill="#1d2d3e" stroke="#1d2d3e" stroke-width="0.12">6400000309</text>
<text x="594.9" y="209.76" font-size="4.35" fill="#1d2d3e" stroke="#1d2d3e" stroke-width="0.12">8000493</text>
<text x="599.6" y="228.7" font-size="3.4" fill="#b4b9be" stroke="#b4b9be" stroke-width="0.1">NEIN</text>
<text x="594.9" y="238.8" font-size="4.35" fill="#1d2d3e" stroke="#1d2d3e" stroke-width="0.12">29.05.2020</text>
<text x="594.9" y="258.16" font-size="4.35" fill="#8d959d" font-style="italic" stroke="#8d959d" stroke-width="0.12">dd.MM.yyyy</text>
<text x="748.4" y="171.05" font-size="4.38" fill="#66727f" text-anchor="end" stroke="#66727f" stroke-width="0.12">Auftraggeber:</text>
<text x="748.4" y="180.73" font-size="4.38" fill="#66727f" text-anchor="end" stroke="#66727f" stroke-width="0.12">Leistungsort:</text>
<text x="748.4" y="190.41" font-size="4.38" fill="#66727f" text-anchor="end" stroke="#66727f" stroke-width="0.12">Kurztext:</text>
<text x="748.4" y="200.09" font-size="4.38" fill="#66727f" text-anchor="end" stroke="#66727f" stroke-width="0.12">Name:</text>
<text x="748.4" y="209.77" font-size="4.38" fill="#66727f" text-anchor="end" stroke="#66727f" stroke-width="0.12">Straße:</text>
<text x="748.4" y="219.45" font-size="4.38" fill="#66727f" text-anchor="end" stroke="#66727f" stroke-width="0.12">PLZ, Ort:</text>
<text x="748.4" y="229.13" font-size="4.38" fill="#66727f" text-anchor="end" stroke="#66727f" stroke-width="0.12">Langtext:</text>
<text x="753.8" y="171.04" font-size="4.35" fill="#1d2d3e" stroke="#1d2d3e" stroke-width="0.12">WBG Promos</text>
<text x="753.8" y="190.4" font-size="4.35" fill="#1d2d3e" stroke="#1d2d3e" stroke-width="0.12">Sicherungskasten überprüfen</text>
<text x="753.8" y="200.08" font-size="4.35" fill="#1d2d3e" stroke="#1d2d3e" stroke-width="0.12">Suleyman Gette</text>
<text x="753.8" y="209.76" font-size="4.35" fill="#1d2d3e" stroke="#1d2d3e" stroke-width="0.12">Okerstraße 23</text>
<text x="753.8" y="219.44" font-size="4.35" fill="#1d2d3e" stroke="#1d2d3e" stroke-width="0.12">12049</text>
<text x="811" y="219.44" font-size="4.35" fill="#1d2d3e" stroke="#1d2d3e" stroke-width="0.12">Berlin</text>
<text x="917.8" y="171.05" font-size="4.38" fill="#66727f" text-anchor="end" stroke="#66727f" stroke-width="0.12">Gutschriftsnummer:</text>
<text x="917.8" y="180.73" font-size="4.38" fill="#66727f" text-anchor="end" stroke="#66727f" stroke-width="0.12">FI-Belegnummer:</text>
<text x="917.8" y="190.41" font-size="4.38" fill="#66727f" text-anchor="end" stroke="#66727f" stroke-width="0.12">Zahlungsbelegnummer:</text>
<text x="917.8" y="200.09" font-size="4.38" fill="#66727f" text-anchor="end" stroke="#66727f" stroke-width="0.12">Zahldatum:</text>
<text x="917.8" y="209.77" font-size="4.38" fill="#66727f" text-anchor="end" stroke="#66727f" stroke-width="0.12">Exportdatum:</text>
<text x="917.8" y="219.45" font-size="4.38" fill="#66727f" text-anchor="end" stroke="#66727f" stroke-width="0.12">Export offen:</text>
<text x="923.3" y="200.08" font-size="4.35" fill="#8d959d" font-style="italic" stroke="#8d959d" stroke-width="0.12">dd.MM.yyyy</text>
<text x="923.3" y="209.76" font-size="4.35" fill="#8d959d" font-style="italic" stroke="#8d959d" stroke-width="0.12">dd.MM.yyyy</text>
<text x="928.1" y="219.02" font-size="3.4" fill="#b4b9be" stroke="#b4b9be" stroke-width="0.1">NEIN</text>
<text x="25.2" y="328.72" font-size="8.26" fill="#2b3642" stroke="#2b3642" stroke-width="0.1">Auftrag: 8001000 (6400000604/00010)</text>
<text x="456" y="330.66" font-size="10.17" fill="#1e8a43" stroke="#1e8a43" stroke-width="0.12">Angenommen</text>
<text x="25.2" y="353.57" font-size="5.96" fill="#1d2d3e" stroke="#1d2d3e" stroke-width="0.07">Bitte Angebot erstellen</text>
<text x="25.2" y="362.81" font-size="5.8" fill="#1d2d3e" stroke="#1d2d3e" stroke-width="0.07">Stephan Lemke</text>
<text x="25.2" y="372.2" font-size="5.75" fill="#1d2d3e" stroke="#1d2d3e" stroke-width="0.07">Cicerostraße 13, 10709 Berlin</text>
<text x="519.3" y="354.38" font-size="5.7" fill="#1d2d3e" text-anchor="end" stroke="#1d2d3e" stroke-width="0.07">19.10.2022</text>
<text x="489" y="354.38" font-size="5.7" fill="#66727f" text-anchor="end" stroke="#66727f" stroke-width="0.07">Start:</text>
<text x="519.3" y="363.88" font-size="5.7" fill="#1d2d3e" text-anchor="end" stroke="#1d2d3e" stroke-width="0.07">26.10.2022</text>
<text x="489" y="363.88" font-size="5.7" fill="#66727f" text-anchor="end" stroke="#66727f" stroke-width="0.07">Fertigstellung:</text>
<text x="519.3" y="373.38" font-size="5.7" fill="#1d2d3e" text-anchor="end" stroke="#1d2d3e" stroke-width="0.07">0.01 EUR</text>
<text x="494" y="373.38" font-size="5.7" fill="#66727f" text-anchor="end" stroke="#66727f" stroke-width="0.07">Auftragswert:</text>
<text x="54.6" y="422.88" font-size="5.08" fill="#6b7682" text-anchor="middle" stroke="#6b7682" stroke-width="0.14">Kopfdaten</text>
<text x="100.3" y="401.37" font-size="4.83" fill="#333" text-anchor="middle" font-weight="bold" stroke="#333" stroke-width="0.14">0</text>
<text x="89.6" y="422.88" font-size="5.08" fill="#6b7682" text-anchor="middle" stroke="#6b7682" stroke-width="0.14">LEB</text>
<text x="135.9" y="401.37" font-size="4.83" fill="#333" text-anchor="middle" font-weight="bold" stroke="#333" stroke-width="0.14">1</text>
<text x="125.2" y="422.88" font-size="5.08" fill="#6b7682" text-anchor="middle" stroke="#6b7682" stroke-width="0.14">Einsätze</text>
<text x="171.2" y="401.37" font-size="4.83" fill="#333" text-anchor="middle" font-weight="bold" stroke="#333" stroke-width="0.14">1</text>
<text x="160.5" y="422.88" font-size="5.08" fill="#6b7682" text-anchor="middle" stroke="#6b7682" stroke-width="0.14">Angebote</text>
<text x="195.5" y="422.88" font-size="5.08" fill="#6b7682" text-anchor="middle" stroke="#6b7682" stroke-width="0.14">Karte</text>
<text x="241.2" y="401.37" font-size="4.83" fill="#333" text-anchor="middle" font-weight="bold" stroke="#333" stroke-width="0.14">0</text>
<text x="230.5" y="422.88" font-size="5.08" fill="#6b7682" text-anchor="middle" stroke="#6b7682" stroke-width="0.14">Chat</text>
<text x="37.8" y="443.36" font-size="7.47" fill="#1d2d3e" stroke="#1d2d3e" stroke-width="0.09">Gefunden (2)</text>
<text x="88.5" y="443.38" font-size="7.51" fill="#1d2d3e" stroke="#1d2d3e" stroke-width="0.09">Standard</text>
<text x="379" y="443.05" font-size="5.9" fill="#66717c" font-style="italic" stroke="#66717c" stroke-width="0.07">Filtern</text>
<text x="466.97" y="442.45" font-size="5" fill="#667380" stroke="#667380" stroke-width="0.14">AUS</text>
<text x="48.2" y="456.45" font-size="5" fill="#7b8590" stroke="#7b8590" stroke-width="0.14">Position</text>
<text x="88.5" y="456.45" font-size="5" fill="#7b8590" stroke="#7b8590" stroke-width="0.14">Statustext</text>
<text x="133.9" y="456.45" font-size="5" fill="#7b8590" stroke="#7b8590" stroke-width="0.14">Beginn</text>
<text x="182" y="456.45" font-size="5" fill="#7b8590" stroke="#7b8590" stroke-width="0.14">Zeit von</text>
<text x="222" y="456.45" font-size="5" fill="#7b8590" stroke="#7b8590" stroke-width="0.14">Zeit bis</text>
<text x="262.4" y="456.45" font-size="5" fill="#7b8590" stroke="#7b8590" stroke-width="0.14">Ressource</text>
<text x="320.2" y="456.45" font-size="5" fill="#7b8590" stroke="#7b8590" stroke-width="0.14">Kurztext</text>
<text x="393" y="456.45" font-size="5" fill="#7b8590" stroke="#7b8590" stroke-width="0.14">Straße</text>
<text x="456.9" y="456.45" font-size="5" fill="#7b8590" stroke="#7b8590" stroke-width="0.14">Postleitzahl</text>
<text x="497.5" y="456.45" font-size="5" fill="#7b8590" stroke="#7b8590" stroke-width="0.14">Ort</text>
<text x="63" y="471.08" font-size="4.8" fill="#1d2d3e" text-anchor="middle" stroke="#1d2d3e" stroke-width="0.13">10</text>
<text x="91.9" y="471.08" font-size="4.8" fill="#1d2d3e" stroke="#1d2d3e" stroke-width="0.13">Geplant</text>
<text x="137.1" y="471.08" font-size="4.8" fill="#1d2d3e" stroke="#1d2d3e" stroke-width="0.13">08.11.2022</text>
<text x="185.8" y="471.08" font-size="4.8" fill="#1d2d3e" stroke="#1d2d3e" stroke-width="0.13">10:00</text>
<text x="225.8" y="471.08" font-size="4.8" fill="#1d2d3e" stroke="#1d2d3e" stroke-width="0.13">11:00</text>
<text x="266.2" y="471.15" font-size="5" fill="#1d2d3e" stroke="#1d2d3e" stroke-width="0.14">Test HWK</text>
<text x="324" y="471.08" font-size="4.8" fill="#1d2d3e" stroke="#1d2d3e" stroke-width="0.13">Auftrag 8001000 (6400000</text>
<text x="396.3" y="471.08" font-size="4.8" fill="#1d2d3e" stroke="#1d2d3e" stroke-width="0.13">Cicerostraße 13</text>
<text x="460.7" y="471.08" font-size="4.8" fill="#1d2d3e" stroke="#1d2d3e" stroke-width="0.13">10709</text>
<text x="501" y="471.08" font-size="4.8" fill="#1d2d3e" stroke="#1d2d3e" stroke-width="0.13">Berlin</text>
<text x="51.8" y="484.48" font-size="4.8" fill="#1d2d3e" stroke="#1d2d3e" stroke-width="0.13">neue Pos.</text>
<text x="91.9" y="484.48" font-size="4.8" fill="#1d2d3e" stroke="#1d2d3e" stroke-width="0.13">Neu</text>
<text x="137.1" y="484.56" font-size="5.04" fill="#8d959d" font-style="italic" stroke="#8d959d" stroke-width="0.14">dd.MM.y...</text>
<text x="185.8" y="484.48" font-size="4.8" fill="#1d2d3e" stroke="#1d2d3e" stroke-width="0.13">00:00</text>
<text x="225.8" y="484.48" font-size="4.8" fill="#1d2d3e" stroke="#1d2d3e" stroke-width="0.13">00:00</text>
<text x="396.3" y="484.48" font-size="4.8" fill="#1d2d3e" stroke="#1d2d3e" stroke-width="0.13">Cicerostraße 13</text>
<text x="460.7" y="484.48" font-size="4.8" fill="#1d2d3e" stroke="#1d2d3e" stroke-width="0.13">10709</text>
<text x="501" y="484.48" font-size="4.8" fill="#1d2d3e" stroke="#1d2d3e" stroke-width="0.13">Berlin</text>
<text x="573.9" y="360.87" font-size="7.48" fill="#2b3642" stroke="#2b3642" stroke-width="0.09">Rahmenverträge</text>
<text x="821.2" y="359.92" font-size="6.11" fill="#56606b" stroke="#56606b" stroke-width="0.07">abgelaufene Verträge ausblenden</text>
<text x="919.4" y="359.38" font-size="4.8" fill="#fff" font-weight="bold" stroke="#fff" stroke-width="0.13">EIN</text>
<text x="567.2" y="385.55" font-size="7.74" fill="#1d2d3e" stroke="#1d2d3e" stroke-width="0.09">Gefunden (4)</text>
<text x="619.8" y="385.59" font-size="7.86" fill="#1d2d3e" stroke="#1d2d3e" stroke-width="0.09">Standard</text>
<text x="819.5" y="384.25" font-size="5.9" fill="#66717c" font-style="italic" stroke="#66717c" stroke-width="0.07">Filtern</text>
<text x="911.39" y="383.7" font-size="5" fill="#667380" stroke="#667380" stroke-width="0.14">AUS</text>
<text x="577.5" y="399.05" font-size="5" fill="#7b8590" stroke="#7b8590" stroke-width="0.14">Einkaufsbeleg</text>
<text x="667.5" y="399.05" font-size="5" fill="#7b8590" stroke="#7b8590" stroke-width="0.14">Position</text>
<text x="712.9" y="399.05" font-size="5" fill="#7b8590" stroke="#7b8590" stroke-width="0.14">Kurztext</text>
<text x="844" y="399.05" font-size="5" fill="#7b8590" stroke="#7b8590" stroke-width="0.14">Laufzeitbeginn</text>
<text x="933.3" y="399.05" font-size="5" fill="#7b8590" stroke="#7b8590" stroke-width="0.14">Laufzeitende</text>
<text x="582" y="413.62" font-size="4.92" fill="#1d2d3e" stroke="#1d2d3e" stroke-width="0.14">4300000014</text>
<text x="671.6" y="413.62" font-size="4.92" fill="#1d2d3e" stroke="#1d2d3e" stroke-width="0.14">00010</text>
<text x="716.5" y="413.62" font-size="4.92" fill="#1d2d3e" stroke="#1d2d3e" stroke-width="0.14">Dachdecker</text>
<text x="844" y="413.62" font-size="4.92" fill="#1d2d3e" stroke="#1d2d3e" stroke-width="0.14">28.02.2018</text>
<text x="933.3" y="413.62" font-size="4.92" fill="#1d2d3e" stroke="#1d2d3e" stroke-width="0.14">31.12.2022</text>
<text x="582" y="427.12" font-size="4.92" fill="#1d2d3e" stroke="#1d2d3e" stroke-width="0.14">4300000013</text>
<text x="671.6" y="427.12" font-size="4.92" fill="#1d2d3e" stroke="#1d2d3e" stroke-width="0.14">00010</text>
<text x="716.5" y="427.12" font-size="4.92" fill="#1d2d3e" stroke="#1d2d3e" stroke-width="0.14">Elektro</text>
<text x="844" y="427.12" font-size="4.92" fill="#1d2d3e" stroke="#1d2d3e" stroke-width="0.14">28.02.2018</text>
<text x="933.3" y="427.12" font-size="4.92" fill="#1d2d3e" stroke="#1d2d3e" stroke-width="0.14">31.12.2022</text>
<text x="582" y="440.62" font-size="4.92" fill="#1d2d3e" stroke="#1d2d3e" stroke-width="0.14">4300000012</text>
<text x="671.6" y="440.62" font-size="4.92" fill="#1d2d3e" stroke="#1d2d3e" stroke-width="0.14">00010</text>
<text x="716.5" y="440.62" font-size="4.92" fill="#1d2d3e" stroke="#1d2d3e" stroke-width="0.14">Sanitär</text>
<text x="844" y="440.62" font-size="4.92" fill="#1d2d3e" stroke="#1d2d3e" stroke-width="0.14">13.02.2018</text>
<text x="933.3" y="440.62" font-size="4.92" fill="#1d2d3e" stroke="#1d2d3e" stroke-width="0.14">31.12.2022</text>
<text x="582" y="454.12" font-size="4.92" fill="#1d2d3e" stroke="#1d2d3e" stroke-width="0.14">4300000011</text>
<text x="671.6" y="454.12" font-size="4.92" fill="#1d2d3e" stroke="#1d2d3e" stroke-width="0.14">00010</text>
<text x="716.5" y="454.12" font-size="4.92" fill="#1d2d3e" stroke="#1d2d3e" stroke-width="0.14">Fußboden</text>
<text x="844" y="454.12" font-size="4.92" fill="#1d2d3e" stroke="#1d2d3e" stroke-width="0.14">13.02.2018</text>
<text x="933.3" y="454.12" font-size="4.92" fill="#1d2d3e" stroke="#1d2d3e" stroke-width="0.14">31.12.2022</text>
<text x="560.7" y="494.06" font-size="7.75" fill="#1d2d3e" stroke="#1d2d3e" stroke-width="0.09">Gefunden (3256)</text>
<text x="626" y="494.08" font-size="7.81" fill="#1d2d3e" stroke="#1d2d3e" stroke-width="0.09">Standard</text>
<text x="820.2" y="493.35" font-size="5.9" fill="#66717c" font-style="italic" stroke="#66717c" stroke-width="0.07">Filter</text>
<text x="558" y="507.95" font-size="5" fill="#7b8590" stroke="#7b8590" stroke-width="0.14">Bezeichnung</text>
<text x="676.9" y="507.95" font-size="5" fill="#7b8590" stroke="#7b8590" stroke-width="0.14">Leistungsnummer</text>
<text x="723.9" y="507.95" font-size="5" fill="#7b8590" stroke="#7b8590" stroke-width="0.14">Kurztext</text>
<text x="788.3" y="507.95" font-size="5" fill="#7b8590" stroke="#7b8590" stroke-width="0.14">Menge</text>
<text x="835.1" y="507.95" font-size="5" fill="#7b8590" stroke="#7b8590" stroke-width="0.14">Basismenge</text>
<text x="868.7" y="507.95" font-size="5" fill="#7b8590" stroke="#7b8590" stroke-width="0.14">Einheitspreis</text>
<text x="945.3" y="507.95" font-size="5" fill="#7b8590" stroke="#7b8590" stroke-width="0.14">Währung</text>
<text x="842.3" y="522.92" font-size="4.92" fill="#1d2d3e" stroke="#1d2d3e" stroke-width="0.14">0.000</text>
<text x="935.2" y="522.92" font-size="4.92" fill="#1d2d3e" text-anchor="end" stroke="#1d2d3e" stroke-width="0.14">0.00</text>
<text x="949.6" y="522.92" font-size="4.92" fill="#1d2d3e" stroke="#1d2d3e" stroke-width="0.14">EUR</text>
<text x="842.3" y="536.32" font-size="4.92" fill="#1d2d3e" stroke="#1d2d3e" stroke-width="0.14">0.000</text>
<text x="935.2" y="536.32" font-size="4.92" fill="#1d2d3e" text-anchor="end" stroke="#1d2d3e" stroke-width="0.14">0.00</text>
<text x="949.6" y="536.32" font-size="4.92" fill="#1d2d3e" stroke="#1d2d3e" stroke-width="0.14">EUR</text>
<text x="573.9" y="522.92" font-size="4.92" fill="#1d2d3e" stroke="#1d2d3e" stroke-width="0.14">4300000012/00010</text>
<text x="581.6" y="536.32" font-size="4.92" fill="#1d2d3e" stroke="#1d2d3e" stroke-width="0.14">42</text>
<text x="728" y="536.32" font-size="4.92" fill="#1d2d3e" stroke="#1d2d3e" stroke-width="0.14">Sanitär 2013 GAEB90</text>
</svg>
</div>
</body></html>
